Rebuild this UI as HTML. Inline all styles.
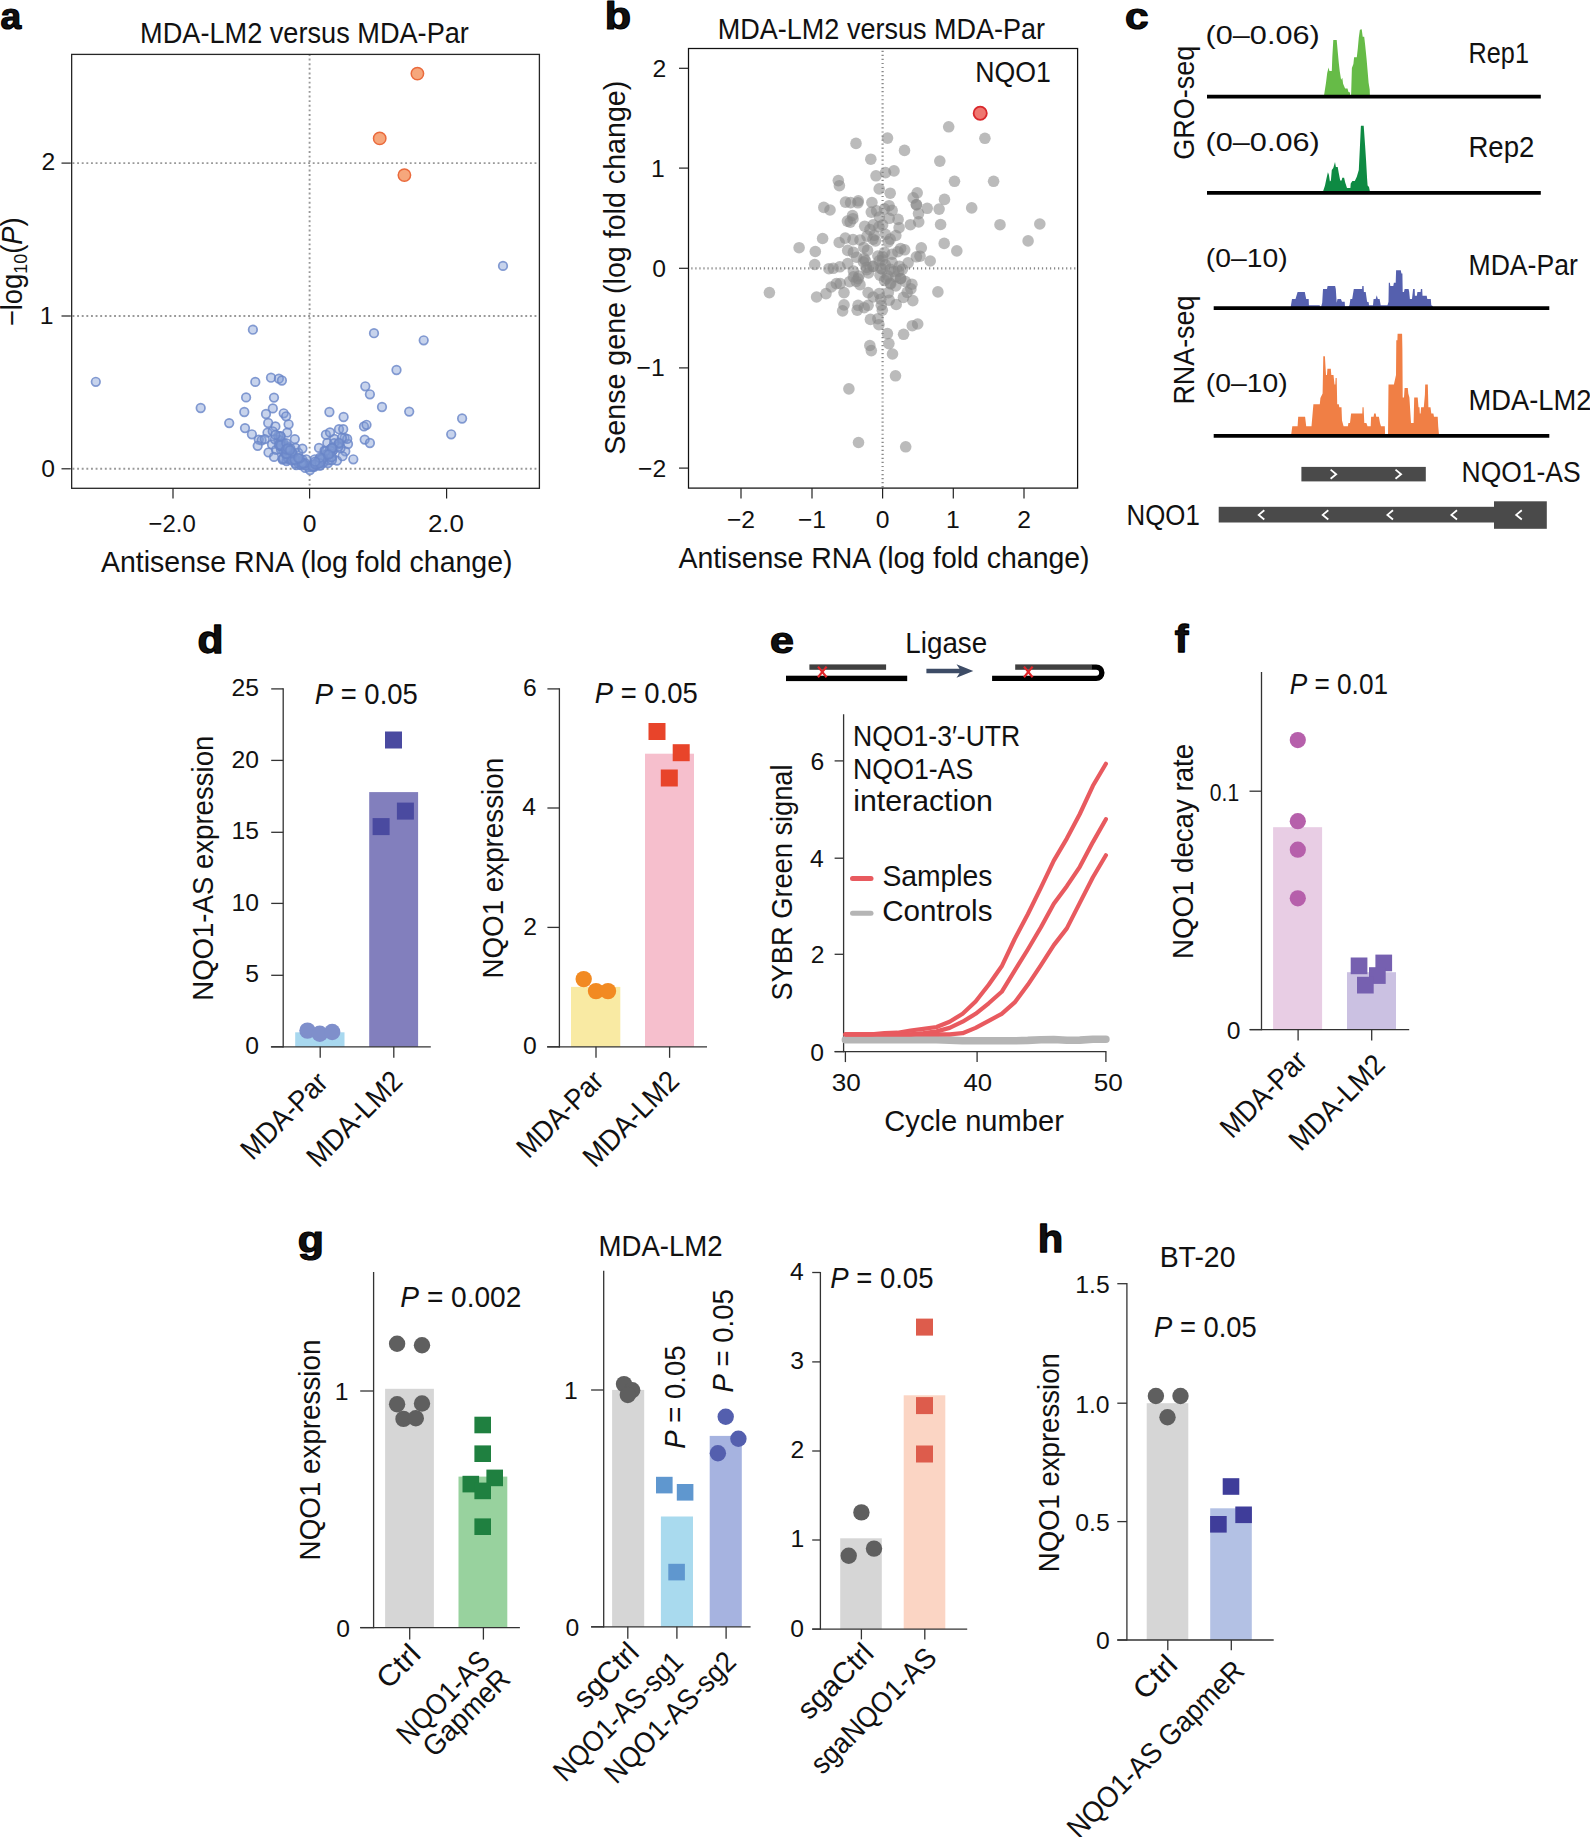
<!DOCTYPE html>
<html><head><meta charset="utf-8"><title>Figure</title>
<style>
html,body{margin:0;padding:0;background:#fff;}
svg{display:block;}
text{font-family:"Liberation Sans",sans-serif;fill:#111;}
</style></head><body>
<svg width="1590" height="1837" viewBox="0 0 1590 1837">
<rect width="1590" height="1837" fill="#fff"/>
<g id="panel-a">
<text transform="translate(0.58,28.73) scale(0.930,0.942)" font-size="40" font-weight="bold" fill="#000" stroke="#000" stroke-width="1.3" stroke-linejoin="round">a</text>
<text x="140.06" y="42.80" font-size="29.2" textLength="328.86" lengthAdjust="spacingAndGlyphs">MDA-LM2 versus MDA-Par</text>
<line x1="309.6" y1="54.0" x2="309.6" y2="488.0" stroke="#999" stroke-width="1.9" stroke-dasharray="1.9 2.72"/>
<line x1="72.5" y1="163.1" x2="540.0" y2="163.1" stroke="#999" stroke-width="1.9" stroke-dasharray="1.9 2.72"/>
<line x1="72.5" y1="316.0" x2="540.0" y2="316.0" stroke="#999" stroke-width="1.9" stroke-dasharray="1.9 2.72"/>
<line x1="72.5" y1="468.8" x2="540.0" y2="468.8" stroke="#999" stroke-width="1.9" stroke-dasharray="1.9 2.72"/>
<rect x="71.65" y="54.4" width="467.75" height="433.9" fill="none" stroke="#262626" stroke-width="1.3"/>
<line x1="61.5" y1="163.1" x2="70.8" y2="163.1" stroke="#222" stroke-width="1.2" />
<line x1="61.5" y1="316.0" x2="70.8" y2="316.0" stroke="#222" stroke-width="1.2" />
<line x1="61.5" y1="468.8" x2="70.8" y2="468.8" stroke="#222" stroke-width="1.2" />
<line x1="173.0" y1="488.2" x2="173.0" y2="498.5" stroke="#222" stroke-width="1.2" />
<line x1="309.6" y1="488.2" x2="309.6" y2="498.5" stroke="#222" stroke-width="1.2" />
<line x1="446.6" y1="488.2" x2="446.6" y2="498.5" stroke="#222" stroke-width="1.2" />
<text x="41.58" y="169.90" font-size="24.7">2</text>
<text x="39.86" y="324.00" font-size="24.7">1</text>
<text x="41.32" y="476.50" font-size="24.7">0</text>
<text x="148.55" y="531.70" font-size="24.7" textLength="47.23" lengthAdjust="spacingAndGlyphs">−2.0</text>
<text x="302.71" y="531.70" font-size="24.7">0</text>
<text x="427.90" y="531.70" font-size="24.7" textLength="36.08" lengthAdjust="spacingAndGlyphs">2.0</text>
<text x="101.03" y="571.50" font-size="29.2" textLength="411.47" lengthAdjust="spacingAndGlyphs">Antisense RNA (log fold change)</text>
<text transform="translate(21.70,326.20) rotate(-90)" font-size="29.2" textLength="108.90" lengthAdjust="spacingAndGlyphs">−log<tspan font-size="19" dy="5.5">10</tspan><tspan dy="-5.5">(</tspan><tspan font-style="italic">P</tspan>)</text>
<circle cx="200.7" cy="408.0" r="4.3" fill="#7f9ad3" fill-opacity="0.44" stroke="#6a86c8" stroke-opacity="0.82" stroke-width="1.7"/>
<circle cx="229.2" cy="423.1" r="4.3" fill="#7f9ad3" fill-opacity="0.44" stroke="#6a86c8" stroke-opacity="0.82" stroke-width="1.7"/>
<circle cx="246.1" cy="397.4" r="4.3" fill="#7f9ad3" fill-opacity="0.44" stroke="#6a86c8" stroke-opacity="0.82" stroke-width="1.7"/>
<circle cx="244.3" cy="412.0" r="4.3" fill="#7f9ad3" fill-opacity="0.44" stroke="#6a86c8" stroke-opacity="0.82" stroke-width="1.7"/>
<circle cx="245.0" cy="428.1" r="4.3" fill="#7f9ad3" fill-opacity="0.44" stroke="#6a86c8" stroke-opacity="0.82" stroke-width="1.7"/>
<circle cx="251.9" cy="434.3" r="4.3" fill="#7f9ad3" fill-opacity="0.44" stroke="#6a86c8" stroke-opacity="0.82" stroke-width="1.7"/>
<circle cx="255.3" cy="381.9" r="4.3" fill="#7f9ad3" fill-opacity="0.44" stroke="#6a86c8" stroke-opacity="0.82" stroke-width="1.7"/>
<circle cx="271.0" cy="377.7" r="4.3" fill="#7f9ad3" fill-opacity="0.44" stroke="#6a86c8" stroke-opacity="0.82" stroke-width="1.7"/>
<circle cx="278.9" cy="378.7" r="4.3" fill="#7f9ad3" fill-opacity="0.44" stroke="#6a86c8" stroke-opacity="0.82" stroke-width="1.7"/>
<circle cx="281.9" cy="380.5" r="4.3" fill="#7f9ad3" fill-opacity="0.44" stroke="#6a86c8" stroke-opacity="0.82" stroke-width="1.7"/>
<circle cx="274.0" cy="397.6" r="4.3" fill="#7f9ad3" fill-opacity="0.44" stroke="#6a86c8" stroke-opacity="0.82" stroke-width="1.7"/>
<circle cx="272.8" cy="408.4" r="4.3" fill="#7f9ad3" fill-opacity="0.44" stroke="#6a86c8" stroke-opacity="0.82" stroke-width="1.7"/>
<circle cx="266.0" cy="414.0" r="4.3" fill="#7f9ad3" fill-opacity="0.44" stroke="#6a86c8" stroke-opacity="0.82" stroke-width="1.7"/>
<circle cx="283.7" cy="413.3" r="4.3" fill="#7f9ad3" fill-opacity="0.44" stroke="#6a86c8" stroke-opacity="0.82" stroke-width="1.7"/>
<circle cx="286.1" cy="416.3" r="4.3" fill="#7f9ad3" fill-opacity="0.44" stroke="#6a86c8" stroke-opacity="0.82" stroke-width="1.7"/>
<circle cx="268.2" cy="423.0" r="4.3" fill="#7f9ad3" fill-opacity="0.44" stroke="#6a86c8" stroke-opacity="0.82" stroke-width="1.7"/>
<circle cx="275.4" cy="426.4" r="4.3" fill="#7f9ad3" fill-opacity="0.44" stroke="#6a86c8" stroke-opacity="0.82" stroke-width="1.7"/>
<circle cx="288.6" cy="424.3" r="4.3" fill="#7f9ad3" fill-opacity="0.44" stroke="#6a86c8" stroke-opacity="0.82" stroke-width="1.7"/>
<circle cx="267.5" cy="432.6" r="4.3" fill="#7f9ad3" fill-opacity="0.44" stroke="#6a86c8" stroke-opacity="0.82" stroke-width="1.7"/>
<circle cx="287.2" cy="432.6" r="4.3" fill="#7f9ad3" fill-opacity="0.44" stroke="#6a86c8" stroke-opacity="0.82" stroke-width="1.7"/>
<circle cx="258.8" cy="439.6" r="4.3" fill="#7f9ad3" fill-opacity="0.44" stroke="#6a86c8" stroke-opacity="0.82" stroke-width="1.7"/>
<circle cx="261.6" cy="440.3" r="4.3" fill="#7f9ad3" fill-opacity="0.44" stroke="#6a86c8" stroke-opacity="0.82" stroke-width="1.7"/>
<circle cx="264.8" cy="439.1" r="4.3" fill="#7f9ad3" fill-opacity="0.44" stroke="#6a86c8" stroke-opacity="0.82" stroke-width="1.7"/>
<circle cx="257.7" cy="445.8" r="4.3" fill="#7f9ad3" fill-opacity="0.44" stroke="#6a86c8" stroke-opacity="0.82" stroke-width="1.7"/>
<circle cx="272.0" cy="444.4" r="4.3" fill="#7f9ad3" fill-opacity="0.44" stroke="#6a86c8" stroke-opacity="0.82" stroke-width="1.7"/>
<circle cx="280.7" cy="442.3" r="4.3" fill="#7f9ad3" fill-opacity="0.44" stroke="#6a86c8" stroke-opacity="0.82" stroke-width="1.7"/>
<circle cx="280.3" cy="436.1" r="4.3" fill="#7f9ad3" fill-opacity="0.44" stroke="#6a86c8" stroke-opacity="0.82" stroke-width="1.7"/>
<circle cx="294.8" cy="439.1" r="4.3" fill="#7f9ad3" fill-opacity="0.44" stroke="#6a86c8" stroke-opacity="0.82" stroke-width="1.7"/>
<circle cx="268.5" cy="452.4" r="4.3" fill="#7f9ad3" fill-opacity="0.44" stroke="#6a86c8" stroke-opacity="0.82" stroke-width="1.7"/>
<circle cx="276.1" cy="449.9" r="4.3" fill="#7f9ad3" fill-opacity="0.44" stroke="#6a86c8" stroke-opacity="0.82" stroke-width="1.7"/>
<circle cx="284.4" cy="448.6" r="4.3" fill="#7f9ad3" fill-opacity="0.44" stroke="#6a86c8" stroke-opacity="0.82" stroke-width="1.7"/>
<circle cx="295.5" cy="447.9" r="4.3" fill="#7f9ad3" fill-opacity="0.44" stroke="#6a86c8" stroke-opacity="0.82" stroke-width="1.7"/>
<circle cx="274.0" cy="456.9" r="4.3" fill="#7f9ad3" fill-opacity="0.44" stroke="#6a86c8" stroke-opacity="0.82" stroke-width="1.7"/>
<circle cx="282.6" cy="459.6" r="4.3" fill="#7f9ad3" fill-opacity="0.44" stroke="#6a86c8" stroke-opacity="0.82" stroke-width="1.7"/>
<circle cx="289.2" cy="458.9" r="4.3" fill="#7f9ad3" fill-opacity="0.44" stroke="#6a86c8" stroke-opacity="0.82" stroke-width="1.7"/>
<circle cx="298.2" cy="452.7" r="4.3" fill="#7f9ad3" fill-opacity="0.44" stroke="#6a86c8" stroke-opacity="0.82" stroke-width="1.7"/>
<circle cx="302.4" cy="448.6" r="4.3" fill="#7f9ad3" fill-opacity="0.44" stroke="#6a86c8" stroke-opacity="0.82" stroke-width="1.7"/>
<circle cx="296.9" cy="459.6" r="4.3" fill="#7f9ad3" fill-opacity="0.44" stroke="#6a86c8" stroke-opacity="0.82" stroke-width="1.7"/>
<circle cx="302.4" cy="459.6" r="4.3" fill="#7f9ad3" fill-opacity="0.44" stroke="#6a86c8" stroke-opacity="0.82" stroke-width="1.7"/>
<circle cx="306.3" cy="459.3" r="4.3" fill="#7f9ad3" fill-opacity="0.44" stroke="#6a86c8" stroke-opacity="0.82" stroke-width="1.7"/>
<circle cx="296.2" cy="465.2" r="4.3" fill="#7f9ad3" fill-opacity="0.44" stroke="#6a86c8" stroke-opacity="0.82" stroke-width="1.7"/>
<circle cx="301.0" cy="465.2" r="4.3" fill="#7f9ad3" fill-opacity="0.44" stroke="#6a86c8" stroke-opacity="0.82" stroke-width="1.7"/>
<circle cx="308.6" cy="467.2" r="4.3" fill="#7f9ad3" fill-opacity="0.44" stroke="#6a86c8" stroke-opacity="0.82" stroke-width="1.7"/>
<circle cx="305.2" cy="467.9" r="4.3" fill="#7f9ad3" fill-opacity="0.44" stroke="#6a86c8" stroke-opacity="0.82" stroke-width="1.7"/>
<circle cx="312.1" cy="467.2" r="4.3" fill="#7f9ad3" fill-opacity="0.44" stroke="#6a86c8" stroke-opacity="0.82" stroke-width="1.7"/>
<circle cx="310.0" cy="470.0" r="4.3" fill="#7f9ad3" fill-opacity="0.44" stroke="#6a86c8" stroke-opacity="0.82" stroke-width="1.7"/>
<circle cx="314.8" cy="459.3" r="4.3" fill="#7f9ad3" fill-opacity="0.44" stroke="#6a86c8" stroke-opacity="0.82" stroke-width="1.7"/>
<circle cx="319.0" cy="462.4" r="4.3" fill="#7f9ad3" fill-opacity="0.44" stroke="#6a86c8" stroke-opacity="0.82" stroke-width="1.7"/>
<circle cx="321.8" cy="463.1" r="4.3" fill="#7f9ad3" fill-opacity="0.44" stroke="#6a86c8" stroke-opacity="0.82" stroke-width="1.7"/>
<circle cx="328.0" cy="463.1" r="4.3" fill="#7f9ad3" fill-opacity="0.44" stroke="#6a86c8" stroke-opacity="0.82" stroke-width="1.7"/>
<circle cx="337.0" cy="460.6" r="4.3" fill="#7f9ad3" fill-opacity="0.44" stroke="#6a86c8" stroke-opacity="0.82" stroke-width="1.7"/>
<circle cx="353.3" cy="459.3" r="4.3" fill="#7f9ad3" fill-opacity="0.44" stroke="#6a86c8" stroke-opacity="0.82" stroke-width="1.7"/>
<circle cx="319.0" cy="447.9" r="4.3" fill="#7f9ad3" fill-opacity="0.44" stroke="#6a86c8" stroke-opacity="0.82" stroke-width="1.7"/>
<circle cx="324.5" cy="450.6" r="4.3" fill="#7f9ad3" fill-opacity="0.44" stroke="#6a86c8" stroke-opacity="0.82" stroke-width="1.7"/>
<circle cx="327.3" cy="443.0" r="4.3" fill="#7f9ad3" fill-opacity="0.44" stroke="#6a86c8" stroke-opacity="0.82" stroke-width="1.7"/>
<circle cx="333.5" cy="449.9" r="4.3" fill="#7f9ad3" fill-opacity="0.44" stroke="#6a86c8" stroke-opacity="0.82" stroke-width="1.7"/>
<circle cx="338.4" cy="444.0" r="4.3" fill="#7f9ad3" fill-opacity="0.44" stroke="#6a86c8" stroke-opacity="0.82" stroke-width="1.7"/>
<circle cx="345.3" cy="451.3" r="4.3" fill="#7f9ad3" fill-opacity="0.44" stroke="#6a86c8" stroke-opacity="0.82" stroke-width="1.7"/>
<circle cx="342.5" cy="456.2" r="4.3" fill="#7f9ad3" fill-opacity="0.44" stroke="#6a86c8" stroke-opacity="0.82" stroke-width="1.7"/>
<circle cx="348.0" cy="444.0" r="4.3" fill="#7f9ad3" fill-opacity="0.44" stroke="#6a86c8" stroke-opacity="0.82" stroke-width="1.7"/>
<circle cx="344.6" cy="437.9" r="4.3" fill="#7f9ad3" fill-opacity="0.44" stroke="#6a86c8" stroke-opacity="0.82" stroke-width="1.7"/>
<circle cx="334.2" cy="438.9" r="4.3" fill="#7f9ad3" fill-opacity="0.44" stroke="#6a86c8" stroke-opacity="0.82" stroke-width="1.7"/>
<circle cx="325.9" cy="434.7" r="4.3" fill="#7f9ad3" fill-opacity="0.44" stroke="#6a86c8" stroke-opacity="0.82" stroke-width="1.7"/>
<circle cx="330.0" cy="432.4" r="4.3" fill="#7f9ad3" fill-opacity="0.44" stroke="#6a86c8" stroke-opacity="0.82" stroke-width="1.7"/>
<circle cx="339.0" cy="429.2" r="4.3" fill="#7f9ad3" fill-opacity="0.44" stroke="#6a86c8" stroke-opacity="0.82" stroke-width="1.7"/>
<circle cx="343.2" cy="429.2" r="4.3" fill="#7f9ad3" fill-opacity="0.44" stroke="#6a86c8" stroke-opacity="0.82" stroke-width="1.7"/>
<circle cx="329.4" cy="412.0" r="4.3" fill="#7f9ad3" fill-opacity="0.44" stroke="#6a86c8" stroke-opacity="0.82" stroke-width="1.7"/>
<circle cx="343.6" cy="417.0" r="4.3" fill="#7f9ad3" fill-opacity="0.44" stroke="#6a86c8" stroke-opacity="0.82" stroke-width="1.7"/>
<circle cx="364.0" cy="426.4" r="4.3" fill="#7f9ad3" fill-opacity="0.44" stroke="#6a86c8" stroke-opacity="0.82" stroke-width="1.7"/>
<circle cx="366.5" cy="424.8" r="4.3" fill="#7f9ad3" fill-opacity="0.44" stroke="#6a86c8" stroke-opacity="0.82" stroke-width="1.7"/>
<circle cx="364.7" cy="439.6" r="4.3" fill="#7f9ad3" fill-opacity="0.44" stroke="#6a86c8" stroke-opacity="0.82" stroke-width="1.7"/>
<circle cx="369.9" cy="443.0" r="4.3" fill="#7f9ad3" fill-opacity="0.44" stroke="#6a86c8" stroke-opacity="0.82" stroke-width="1.7"/>
<circle cx="365.3" cy="386.3" r="4.3" fill="#7f9ad3" fill-opacity="0.44" stroke="#6a86c8" stroke-opacity="0.82" stroke-width="1.7"/>
<circle cx="369.9" cy="394.3" r="4.3" fill="#7f9ad3" fill-opacity="0.44" stroke="#6a86c8" stroke-opacity="0.82" stroke-width="1.7"/>
<circle cx="382.0" cy="407.0" r="4.3" fill="#7f9ad3" fill-opacity="0.44" stroke="#6a86c8" stroke-opacity="0.82" stroke-width="1.7"/>
<circle cx="396.5" cy="370.0" r="4.3" fill="#7f9ad3" fill-opacity="0.44" stroke="#6a86c8" stroke-opacity="0.82" stroke-width="1.7"/>
<circle cx="409.2" cy="411.6" r="4.3" fill="#7f9ad3" fill-opacity="0.44" stroke="#6a86c8" stroke-opacity="0.82" stroke-width="1.7"/>
<circle cx="95.8" cy="381.8" r="4.3" fill="#7f9ad3" fill-opacity="0.44" stroke="#6a86c8" stroke-opacity="0.82" stroke-width="1.7"/>
<circle cx="252.9" cy="329.7" r="4.3" fill="#7f9ad3" fill-opacity="0.44" stroke="#6a86c8" stroke-opacity="0.82" stroke-width="1.7"/>
<circle cx="374.0" cy="333.2" r="4.3" fill="#7f9ad3" fill-opacity="0.44" stroke="#6a86c8" stroke-opacity="0.82" stroke-width="1.7"/>
<circle cx="423.7" cy="340.3" r="4.3" fill="#7f9ad3" fill-opacity="0.44" stroke="#6a86c8" stroke-opacity="0.82" stroke-width="1.7"/>
<circle cx="503.0" cy="265.9" r="4.3" fill="#7f9ad3" fill-opacity="0.44" stroke="#6a86c8" stroke-opacity="0.82" stroke-width="1.7"/>
<circle cx="462.1" cy="418.5" r="4.3" fill="#7f9ad3" fill-opacity="0.44" stroke="#6a86c8" stroke-opacity="0.82" stroke-width="1.7"/>
<circle cx="451.2" cy="434.3" r="4.3" fill="#7f9ad3" fill-opacity="0.44" stroke="#6a86c8" stroke-opacity="0.82" stroke-width="1.7"/>
<circle cx="299.0" cy="464.2" r="4.3" fill="#7f9ad3" fill-opacity="0.44" stroke="#6a86c8" stroke-opacity="0.82" stroke-width="1.7"/>
<circle cx="283.9" cy="451.0" r="4.3" fill="#7f9ad3" fill-opacity="0.44" stroke="#6a86c8" stroke-opacity="0.82" stroke-width="1.7"/>
<circle cx="283.1" cy="449.9" r="4.3" fill="#7f9ad3" fill-opacity="0.44" stroke="#6a86c8" stroke-opacity="0.82" stroke-width="1.7"/>
<circle cx="305.6" cy="465.4" r="4.3" fill="#7f9ad3" fill-opacity="0.44" stroke="#6a86c8" stroke-opacity="0.82" stroke-width="1.7"/>
<circle cx="305.1" cy="463.1" r="4.3" fill="#7f9ad3" fill-opacity="0.44" stroke="#6a86c8" stroke-opacity="0.82" stroke-width="1.7"/>
<circle cx="293.0" cy="457.6" r="4.3" fill="#7f9ad3" fill-opacity="0.44" stroke="#6a86c8" stroke-opacity="0.82" stroke-width="1.7"/>
<circle cx="314.2" cy="466.8" r="4.3" fill="#7f9ad3" fill-opacity="0.44" stroke="#6a86c8" stroke-opacity="0.82" stroke-width="1.7"/>
<circle cx="282.4" cy="444.0" r="4.3" fill="#7f9ad3" fill-opacity="0.44" stroke="#6a86c8" stroke-opacity="0.82" stroke-width="1.7"/>
<circle cx="288.3" cy="459.4" r="4.3" fill="#7f9ad3" fill-opacity="0.44" stroke="#6a86c8" stroke-opacity="0.82" stroke-width="1.7"/>
<circle cx="328.6" cy="460.3" r="4.3" fill="#7f9ad3" fill-opacity="0.44" stroke="#6a86c8" stroke-opacity="0.82" stroke-width="1.7"/>
<circle cx="317.9" cy="463.6" r="4.3" fill="#7f9ad3" fill-opacity="0.44" stroke="#6a86c8" stroke-opacity="0.82" stroke-width="1.7"/>
<circle cx="283.4" cy="458.2" r="4.3" fill="#7f9ad3" fill-opacity="0.44" stroke="#6a86c8" stroke-opacity="0.82" stroke-width="1.7"/>
<circle cx="320.4" cy="461.2" r="4.3" fill="#7f9ad3" fill-opacity="0.44" stroke="#6a86c8" stroke-opacity="0.82" stroke-width="1.7"/>
<circle cx="314.7" cy="464.3" r="4.3" fill="#7f9ad3" fill-opacity="0.44" stroke="#6a86c8" stroke-opacity="0.82" stroke-width="1.7"/>
<circle cx="327.3" cy="453.9" r="4.3" fill="#7f9ad3" fill-opacity="0.44" stroke="#6a86c8" stroke-opacity="0.82" stroke-width="1.7"/>
<circle cx="314.1" cy="466.3" r="4.3" fill="#7f9ad3" fill-opacity="0.44" stroke="#6a86c8" stroke-opacity="0.82" stroke-width="1.7"/>
<circle cx="323.4" cy="462.7" r="4.3" fill="#7f9ad3" fill-opacity="0.44" stroke="#6a86c8" stroke-opacity="0.82" stroke-width="1.7"/>
<circle cx="286.7" cy="455.7" r="4.3" fill="#7f9ad3" fill-opacity="0.44" stroke="#6a86c8" stroke-opacity="0.82" stroke-width="1.7"/>
<circle cx="288.7" cy="453.7" r="4.3" fill="#7f9ad3" fill-opacity="0.44" stroke="#6a86c8" stroke-opacity="0.82" stroke-width="1.7"/>
<circle cx="319.7" cy="460.2" r="4.3" fill="#7f9ad3" fill-opacity="0.44" stroke="#6a86c8" stroke-opacity="0.82" stroke-width="1.7"/>
<circle cx="332.1" cy="457.2" r="4.3" fill="#7f9ad3" fill-opacity="0.44" stroke="#6a86c8" stroke-opacity="0.82" stroke-width="1.7"/>
<circle cx="315.3" cy="464.0" r="4.3" fill="#7f9ad3" fill-opacity="0.44" stroke="#6a86c8" stroke-opacity="0.82" stroke-width="1.7"/>
<circle cx="330.0" cy="449.3" r="4.3" fill="#7f9ad3" fill-opacity="0.44" stroke="#6a86c8" stroke-opacity="0.82" stroke-width="1.7"/>
<circle cx="319.4" cy="465.3" r="4.3" fill="#7f9ad3" fill-opacity="0.44" stroke="#6a86c8" stroke-opacity="0.82" stroke-width="1.7"/>
<circle cx="318.4" cy="460.6" r="4.3" fill="#7f9ad3" fill-opacity="0.44" stroke="#6a86c8" stroke-opacity="0.82" stroke-width="1.7"/>
<circle cx="296.7" cy="461.4" r="4.3" fill="#7f9ad3" fill-opacity="0.44" stroke="#6a86c8" stroke-opacity="0.82" stroke-width="1.7"/>
<circle cx="281.0" cy="449.8" r="4.3" fill="#7f9ad3" fill-opacity="0.44" stroke="#6a86c8" stroke-opacity="0.82" stroke-width="1.7"/>
<circle cx="286.6" cy="461.0" r="4.3" fill="#7f9ad3" fill-opacity="0.44" stroke="#6a86c8" stroke-opacity="0.82" stroke-width="1.7"/>
<circle cx="287.4" cy="457.4" r="4.3" fill="#7f9ad3" fill-opacity="0.44" stroke="#6a86c8" stroke-opacity="0.82" stroke-width="1.7"/>
<circle cx="331.9" cy="460.0" r="4.3" fill="#7f9ad3" fill-opacity="0.44" stroke="#6a86c8" stroke-opacity="0.82" stroke-width="1.7"/>
<circle cx="312.6" cy="466.4" r="4.3" fill="#7f9ad3" fill-opacity="0.44" stroke="#6a86c8" stroke-opacity="0.82" stroke-width="1.7"/>
<circle cx="331.4" cy="457.2" r="4.3" fill="#7f9ad3" fill-opacity="0.44" stroke="#6a86c8" stroke-opacity="0.82" stroke-width="1.7"/>
<circle cx="301.1" cy="462.0" r="4.3" fill="#7f9ad3" fill-opacity="0.44" stroke="#6a86c8" stroke-opacity="0.82" stroke-width="1.7"/>
<circle cx="288.7" cy="458.5" r="4.3" fill="#7f9ad3" fill-opacity="0.44" stroke="#6a86c8" stroke-opacity="0.82" stroke-width="1.7"/>
<circle cx="293.6" cy="458.4" r="4.3" fill="#7f9ad3" fill-opacity="0.44" stroke="#6a86c8" stroke-opacity="0.82" stroke-width="1.7"/>
<circle cx="295.4" cy="463.4" r="4.3" fill="#7f9ad3" fill-opacity="0.44" stroke="#6a86c8" stroke-opacity="0.82" stroke-width="1.7"/>
<circle cx="301.8" cy="464.1" r="4.3" fill="#7f9ad3" fill-opacity="0.44" stroke="#6a86c8" stroke-opacity="0.82" stroke-width="1.7"/>
<circle cx="321.0" cy="461.1" r="4.3" fill="#7f9ad3" fill-opacity="0.44" stroke="#6a86c8" stroke-opacity="0.82" stroke-width="1.7"/>
<circle cx="320.2" cy="465.7" r="4.3" fill="#7f9ad3" fill-opacity="0.44" stroke="#6a86c8" stroke-opacity="0.82" stroke-width="1.7"/>
<circle cx="326.4" cy="454.3" r="4.3" fill="#7f9ad3" fill-opacity="0.44" stroke="#6a86c8" stroke-opacity="0.82" stroke-width="1.7"/>
<circle cx="303.1" cy="463.2" r="4.3" fill="#7f9ad3" fill-opacity="0.44" stroke="#6a86c8" stroke-opacity="0.82" stroke-width="1.7"/>
<circle cx="317.7" cy="464.0" r="4.3" fill="#7f9ad3" fill-opacity="0.44" stroke="#6a86c8" stroke-opacity="0.82" stroke-width="1.7"/>
<circle cx="292.1" cy="460.4" r="4.3" fill="#7f9ad3" fill-opacity="0.44" stroke="#6a86c8" stroke-opacity="0.82" stroke-width="1.7"/>
<circle cx="282.8" cy="458.9" r="4.3" fill="#7f9ad3" fill-opacity="0.44" stroke="#6a86c8" stroke-opacity="0.82" stroke-width="1.7"/>
<circle cx="285.7" cy="453.8" r="4.3" fill="#7f9ad3" fill-opacity="0.44" stroke="#6a86c8" stroke-opacity="0.82" stroke-width="1.7"/>
<circle cx="332.1" cy="451.2" r="4.3" fill="#7f9ad3" fill-opacity="0.44" stroke="#6a86c8" stroke-opacity="0.82" stroke-width="1.7"/>
<circle cx="294.7" cy="459.8" r="4.3" fill="#7f9ad3" fill-opacity="0.44" stroke="#6a86c8" stroke-opacity="0.82" stroke-width="1.7"/>
<circle cx="287.0" cy="450.2" r="4.3" fill="#7f9ad3" fill-opacity="0.44" stroke="#6a86c8" stroke-opacity="0.82" stroke-width="1.7"/>
<circle cx="330.0" cy="450.5" r="4.3" fill="#7f9ad3" fill-opacity="0.44" stroke="#6a86c8" stroke-opacity="0.82" stroke-width="1.7"/>
<circle cx="339.3" cy="443.9" r="4.3" fill="#7f9ad3" fill-opacity="0.44" stroke="#6a86c8" stroke-opacity="0.82" stroke-width="1.7"/>
<circle cx="287.6" cy="446.4" r="4.3" fill="#7f9ad3" fill-opacity="0.44" stroke="#6a86c8" stroke-opacity="0.82" stroke-width="1.7"/>
<circle cx="299.8" cy="458.4" r="4.3" fill="#7f9ad3" fill-opacity="0.44" stroke="#6a86c8" stroke-opacity="0.82" stroke-width="1.7"/>
<circle cx="283.4" cy="442.9" r="4.3" fill="#7f9ad3" fill-opacity="0.44" stroke="#6a86c8" stroke-opacity="0.82" stroke-width="1.7"/>
<circle cx="292.5" cy="453.3" r="4.3" fill="#7f9ad3" fill-opacity="0.44" stroke="#6a86c8" stroke-opacity="0.82" stroke-width="1.7"/>
<circle cx="332.5" cy="448.3" r="4.3" fill="#7f9ad3" fill-opacity="0.44" stroke="#6a86c8" stroke-opacity="0.82" stroke-width="1.7"/>
<circle cx="278.6" cy="440.0" r="4.3" fill="#7f9ad3" fill-opacity="0.44" stroke="#6a86c8" stroke-opacity="0.82" stroke-width="1.7"/>
<circle cx="280.2" cy="445.8" r="4.3" fill="#7f9ad3" fill-opacity="0.44" stroke="#6a86c8" stroke-opacity="0.82" stroke-width="1.7"/>
<circle cx="280.5" cy="440.3" r="4.3" fill="#7f9ad3" fill-opacity="0.44" stroke="#6a86c8" stroke-opacity="0.82" stroke-width="1.7"/>
<circle cx="321.0" cy="461.3" r="4.3" fill="#7f9ad3" fill-opacity="0.44" stroke="#6a86c8" stroke-opacity="0.82" stroke-width="1.7"/>
<circle cx="347.2" cy="438.9" r="4.3" fill="#7f9ad3" fill-opacity="0.44" stroke="#6a86c8" stroke-opacity="0.82" stroke-width="1.7"/>
<circle cx="330.1" cy="453.5" r="4.3" fill="#7f9ad3" fill-opacity="0.44" stroke="#6a86c8" stroke-opacity="0.82" stroke-width="1.7"/>
<circle cx="274.9" cy="439.3" r="4.3" fill="#7f9ad3" fill-opacity="0.44" stroke="#6a86c8" stroke-opacity="0.82" stroke-width="1.7"/>
<circle cx="278.2" cy="435.9" r="4.3" fill="#7f9ad3" fill-opacity="0.44" stroke="#6a86c8" stroke-opacity="0.82" stroke-width="1.7"/>
<circle cx="291.8" cy="451.7" r="4.3" fill="#7f9ad3" fill-opacity="0.44" stroke="#6a86c8" stroke-opacity="0.82" stroke-width="1.7"/>
<circle cx="340.6" cy="448.0" r="4.3" fill="#7f9ad3" fill-opacity="0.44" stroke="#6a86c8" stroke-opacity="0.82" stroke-width="1.7"/>
<circle cx="338.4" cy="446.7" r="4.3" fill="#7f9ad3" fill-opacity="0.44" stroke="#6a86c8" stroke-opacity="0.82" stroke-width="1.7"/>
<circle cx="280.7" cy="436.3" r="4.3" fill="#7f9ad3" fill-opacity="0.44" stroke="#6a86c8" stroke-opacity="0.82" stroke-width="1.7"/>
<circle cx="334.1" cy="443.1" r="4.3" fill="#7f9ad3" fill-opacity="0.44" stroke="#6a86c8" stroke-opacity="0.82" stroke-width="1.7"/>
<circle cx="341.9" cy="438.0" r="4.3" fill="#7f9ad3" fill-opacity="0.44" stroke="#6a86c8" stroke-opacity="0.82" stroke-width="1.7"/>
<circle cx="286.5" cy="453.7" r="4.3" fill="#7f9ad3" fill-opacity="0.44" stroke="#6a86c8" stroke-opacity="0.82" stroke-width="1.7"/>
<circle cx="280.6" cy="445.3" r="4.3" fill="#7f9ad3" fill-opacity="0.44" stroke="#6a86c8" stroke-opacity="0.82" stroke-width="1.7"/>
<circle cx="290.3" cy="448.4" r="4.3" fill="#7f9ad3" fill-opacity="0.44" stroke="#6a86c8" stroke-opacity="0.82" stroke-width="1.7"/>
<circle cx="322.9" cy="458.5" r="4.3" fill="#7f9ad3" fill-opacity="0.44" stroke="#6a86c8" stroke-opacity="0.82" stroke-width="1.7"/>
<circle cx="325.4" cy="451.1" r="4.3" fill="#7f9ad3" fill-opacity="0.44" stroke="#6a86c8" stroke-opacity="0.82" stroke-width="1.7"/>
<circle cx="339.0" cy="443.0" r="4.3" fill="#7f9ad3" fill-opacity="0.44" stroke="#6a86c8" stroke-opacity="0.82" stroke-width="1.7"/>
<circle cx="287.5" cy="449.4" r="4.3" fill="#7f9ad3" fill-opacity="0.44" stroke="#6a86c8" stroke-opacity="0.82" stroke-width="1.7"/>
<circle cx="315.2" cy="464.1" r="4.3" fill="#7f9ad3" fill-opacity="0.44" stroke="#6a86c8" stroke-opacity="0.82" stroke-width="1.7"/>
<circle cx="279.0" cy="445.1" r="4.3" fill="#7f9ad3" fill-opacity="0.44" stroke="#6a86c8" stroke-opacity="0.82" stroke-width="1.7"/>
<circle cx="280.7" cy="445.1" r="4.3" fill="#7f9ad3" fill-opacity="0.44" stroke="#6a86c8" stroke-opacity="0.82" stroke-width="1.7"/>
<circle cx="286.3" cy="443.2" r="4.3" fill="#7f9ad3" fill-opacity="0.44" stroke="#6a86c8" stroke-opacity="0.82" stroke-width="1.7"/>
<circle cx="298.3" cy="458.0" r="4.3" fill="#7f9ad3" fill-opacity="0.44" stroke="#6a86c8" stroke-opacity="0.82" stroke-width="1.7"/>
<circle cx="286.1" cy="449.2" r="4.3" fill="#7f9ad3" fill-opacity="0.44" stroke="#6a86c8" stroke-opacity="0.82" stroke-width="1.7"/>
<circle cx="287.9" cy="448.2" r="4.3" fill="#7f9ad3" fill-opacity="0.44" stroke="#6a86c8" stroke-opacity="0.82" stroke-width="1.7"/>
<circle cx="332.2" cy="447.7" r="4.3" fill="#7f9ad3" fill-opacity="0.44" stroke="#6a86c8" stroke-opacity="0.82" stroke-width="1.7"/>
<circle cx="331.9" cy="448.2" r="4.3" fill="#7f9ad3" fill-opacity="0.44" stroke="#6a86c8" stroke-opacity="0.82" stroke-width="1.7"/>
<circle cx="321.3" cy="458.2" r="4.3" fill="#7f9ad3" fill-opacity="0.44" stroke="#6a86c8" stroke-opacity="0.82" stroke-width="1.7"/>
<circle cx="290.0" cy="450.2" r="4.3" fill="#7f9ad3" fill-opacity="0.44" stroke="#6a86c8" stroke-opacity="0.82" stroke-width="1.7"/>
<circle cx="321.6" cy="459.2" r="4.3" fill="#7f9ad3" fill-opacity="0.44" stroke="#6a86c8" stroke-opacity="0.82" stroke-width="1.7"/>
<circle cx="319.7" cy="463.2" r="4.3" fill="#7f9ad3" fill-opacity="0.44" stroke="#6a86c8" stroke-opacity="0.82" stroke-width="1.7"/>
<circle cx="272.7" cy="431.3" r="4.3" fill="#7f9ad3" fill-opacity="0.44" stroke="#6a86c8" stroke-opacity="0.82" stroke-width="1.7"/>
<circle cx="275.4" cy="434.9" r="4.3" fill="#7f9ad3" fill-opacity="0.44" stroke="#6a86c8" stroke-opacity="0.82" stroke-width="1.7"/>
<circle cx="319.9" cy="457.7" r="4.3" fill="#7f9ad3" fill-opacity="0.44" stroke="#6a86c8" stroke-opacity="0.82" stroke-width="1.7"/>
<circle cx="328.5" cy="454.5" r="4.3" fill="#7f9ad3" fill-opacity="0.44" stroke="#6a86c8" stroke-opacity="0.82" stroke-width="1.7"/>
<circle cx="315.2" cy="461.7" r="4.3" fill="#7f9ad3" fill-opacity="0.44" stroke="#6a86c8" stroke-opacity="0.82" stroke-width="1.7"/>
<circle cx="417.4" cy="73.6" r="6.2" fill="#f6a77c" stroke="#ea6a3c" stroke-width="1.5"/>
<circle cx="379.7" cy="138.4" r="6.2" fill="#f6a77c" stroke="#ea6a3c" stroke-width="1.5"/>
<circle cx="404.4" cy="175.1" r="6.2" fill="#f6a77c" stroke="#ea6a3c" stroke-width="1.5"/>
</g>
<g id="panel-b">
<text transform="translate(604.85,28.85) scale(1.077,0.952)" font-size="40" font-weight="bold" fill="#000" stroke="#000" stroke-width="1.3" stroke-linejoin="round">b</text>
<text x="717.77" y="39.30" font-size="29.2" textLength="327.35" lengthAdjust="spacingAndGlyphs">MDA-LM2 versus MDA-Par</text>
<line x1="882.6" y1="50.8" x2="882.6" y2="488.0" stroke="#888" stroke-width="2.2" stroke-dasharray="1.2 2.83"/>
<line x1="691.3" y1="268.3" x2="1077.0" y2="268.3" stroke="#888" stroke-width="2.2" stroke-dasharray="1.2 2.83"/>
<rect x="688.5" y="48.5" width="389.1" height="439.6" fill="none" stroke="#111" stroke-width="1.25"/>
<line x1="679.0" y1="68.3" x2="688.4" y2="68.3" stroke="#222" stroke-width="1.2" />
<text x="652.53" y="76.80" font-size="24.7">2</text>
<line x1="679.0" y1="168.1" x2="688.4" y2="168.1" stroke="#222" stroke-width="1.2" />
<text x="651.06" y="176.60" font-size="24.7">1</text>
<line x1="679.0" y1="268.3" x2="688.4" y2="268.3" stroke="#222" stroke-width="1.2" />
<text x="652.22" y="276.80" font-size="24.7">0</text>
<line x1="679.0" y1="367.9" x2="688.4" y2="367.9" stroke="#222" stroke-width="1.2" />
<text x="636.62" y="376.40" font-size="24.7">−1</text>
<line x1="679.0" y1="468.1" x2="688.4" y2="468.1" stroke="#222" stroke-width="1.2" />
<text x="638.08" y="476.60" font-size="24.7">−2</text>
<line x1="741.0" y1="488.1" x2="741.0" y2="498.4" stroke="#222" stroke-width="1.2" />
<text x="726.92" y="528.40" font-size="24.7">−2</text>
<line x1="812.0" y1="488.1" x2="812.0" y2="498.4" stroke="#222" stroke-width="1.2" />
<text x="797.89" y="528.40" font-size="24.7">−1</text>
<line x1="882.6" y1="488.1" x2="882.6" y2="498.4" stroke="#222" stroke-width="1.2" />
<text x="875.71" y="528.40" font-size="24.7">0</text>
<line x1="953.3" y1="488.1" x2="953.3" y2="498.4" stroke="#222" stroke-width="1.2" />
<text x="946.11" y="528.40" font-size="24.7">1</text>
<line x1="1024.0" y1="488.1" x2="1024.0" y2="498.4" stroke="#222" stroke-width="1.2" />
<text x="1017.15" y="528.40" font-size="24.7">2</text>
<text x="678.43" y="567.50" font-size="29.2" textLength="411.17" lengthAdjust="spacingAndGlyphs">Antisense RNA (log fold change)</text>
<text transform="translate(625.10,454.79) rotate(-90)" font-size="29.2" textLength="374.09" lengthAdjust="spacingAndGlyphs">Sense gene (log fold change)</text>
<text x="975.20" y="82.40" font-size="29.2" textLength="75.51" lengthAdjust="spacingAndGlyphs">NQO1</text>
<circle cx="948.7" cy="126.8" r="5.8" fill="#888" fill-opacity="0.57"/>
<circle cx="984.9" cy="138.3" r="5.8" fill="#888" fill-opacity="0.57"/>
<circle cx="887.5" cy="138.1" r="5.8" fill="#888" fill-opacity="0.57"/>
<circle cx="856.0" cy="143.4" r="5.8" fill="#888" fill-opacity="0.57"/>
<circle cx="904.5" cy="150.4" r="5.8" fill="#888" fill-opacity="0.57"/>
<circle cx="870.8" cy="159.2" r="5.8" fill="#888" fill-opacity="0.57"/>
<circle cx="939.8" cy="161.1" r="5.8" fill="#888" fill-opacity="0.57"/>
<circle cx="894.0" cy="170.9" r="5.8" fill="#888" fill-opacity="0.57"/>
<circle cx="885.5" cy="172.6" r="5.8" fill="#888" fill-opacity="0.57"/>
<circle cx="876.0" cy="175.8" r="5.8" fill="#888" fill-opacity="0.57"/>
<circle cx="838.3" cy="180.6" r="5.8" fill="#888" fill-opacity="0.57"/>
<circle cx="839.4" cy="185.7" r="5.8" fill="#888" fill-opacity="0.57"/>
<circle cx="954.5" cy="181.3" r="5.8" fill="#888" fill-opacity="0.57"/>
<circle cx="993.6" cy="181.3" r="5.8" fill="#888" fill-opacity="0.57"/>
<circle cx="879.2" cy="188.9" r="5.8" fill="#888" fill-opacity="0.57"/>
<circle cx="890.2" cy="193.2" r="5.8" fill="#888" fill-opacity="0.57"/>
<circle cx="917.2" cy="192.8" r="5.8" fill="#888" fill-opacity="0.57"/>
<circle cx="913.2" cy="197.9" r="5.8" fill="#888" fill-opacity="0.57"/>
<circle cx="944.5" cy="199.4" r="5.8" fill="#888" fill-opacity="0.57"/>
<circle cx="916.4" cy="204.5" r="5.8" fill="#888" fill-opacity="0.57"/>
<circle cx="916.4" cy="204.9" r="5.8" fill="#888" fill-opacity="0.57"/>
<circle cx="845.5" cy="202.1" r="5.8" fill="#888" fill-opacity="0.57"/>
<circle cx="850.6" cy="202.6" r="5.8" fill="#888" fill-opacity="0.57"/>
<circle cx="858.3" cy="200.8" r="5.8" fill="#888" fill-opacity="0.57"/>
<circle cx="857.9" cy="202.8" r="5.8" fill="#888" fill-opacity="0.57"/>
<circle cx="871.9" cy="202.5" r="5.8" fill="#888" fill-opacity="0.57"/>
<circle cx="823.8" cy="207.4" r="5.8" fill="#888" fill-opacity="0.57"/>
<circle cx="830.0" cy="210.0" r="5.8" fill="#888" fill-opacity="0.57"/>
<circle cx="927.2" cy="208.3" r="5.8" fill="#888" fill-opacity="0.57"/>
<circle cx="939.1" cy="209.1" r="5.8" fill="#888" fill-opacity="0.57"/>
<circle cx="971.7" cy="207.9" r="5.8" fill="#888" fill-opacity="0.57"/>
<circle cx="889.1" cy="205.7" r="5.8" fill="#888" fill-opacity="0.57"/>
<circle cx="884.5" cy="208.9" r="5.8" fill="#888" fill-opacity="0.57"/>
<circle cx="892.1" cy="210.4" r="5.8" fill="#888" fill-opacity="0.57"/>
<circle cx="871.3" cy="212.1" r="5.8" fill="#888" fill-opacity="0.57"/>
<circle cx="876.6" cy="210.8" r="5.8" fill="#888" fill-opacity="0.57"/>
<circle cx="918.5" cy="213.6" r="5.8" fill="#888" fill-opacity="0.57"/>
<circle cx="852.5" cy="215.5" r="5.8" fill="#888" fill-opacity="0.57"/>
<circle cx="853.0" cy="218.7" r="5.8" fill="#888" fill-opacity="0.57"/>
<circle cx="847.4" cy="221.1" r="5.8" fill="#888" fill-opacity="0.57"/>
<circle cx="850.2" cy="222.1" r="5.8" fill="#888" fill-opacity="0.57"/>
<circle cx="879.4" cy="217.0" r="5.8" fill="#888" fill-opacity="0.57"/>
<circle cx="889.2" cy="218.3" r="5.8" fill="#888" fill-opacity="0.57"/>
<circle cx="898.1" cy="219.4" r="5.8" fill="#888" fill-opacity="0.57"/>
<circle cx="918.7" cy="221.9" r="5.8" fill="#888" fill-opacity="0.57"/>
<circle cx="910.4" cy="224.7" r="5.8" fill="#888" fill-opacity="0.57"/>
<circle cx="940.6" cy="224.5" r="5.8" fill="#888" fill-opacity="0.57"/>
<circle cx="1000.0" cy="224.7" r="5.8" fill="#888" fill-opacity="0.57"/>
<circle cx="1039.8" cy="224.0" r="5.8" fill="#888" fill-opacity="0.57"/>
<circle cx="899.1" cy="227.7" r="5.8" fill="#888" fill-opacity="0.57"/>
<circle cx="864.7" cy="226.2" r="5.8" fill="#888" fill-opacity="0.57"/>
<circle cx="870.0" cy="229.6" r="5.8" fill="#888" fill-opacity="0.57"/>
<circle cx="873.2" cy="224.9" r="5.8" fill="#888" fill-opacity="0.57"/>
<circle cx="878.9" cy="226.8" r="5.8" fill="#888" fill-opacity="0.57"/>
<circle cx="882.6" cy="224.9" r="5.8" fill="#888" fill-opacity="0.57"/>
<circle cx="874.2" cy="235.3" r="5.8" fill="#888" fill-opacity="0.57"/>
<circle cx="885.5" cy="234.3" r="5.8" fill="#888" fill-opacity="0.57"/>
<circle cx="822.6" cy="238.5" r="5.8" fill="#888" fill-opacity="0.57"/>
<circle cx="845.3" cy="238.1" r="5.8" fill="#888" fill-opacity="0.57"/>
<circle cx="853.0" cy="239.6" r="5.8" fill="#888" fill-opacity="0.57"/>
<circle cx="839.2" cy="242.5" r="5.8" fill="#888" fill-opacity="0.57"/>
<circle cx="860.0" cy="240.0" r="5.8" fill="#888" fill-opacity="0.57"/>
<circle cx="875.5" cy="240.9" r="5.8" fill="#888" fill-opacity="0.57"/>
<circle cx="890.2" cy="239.1" r="5.8" fill="#888" fill-opacity="0.57"/>
<circle cx="888.3" cy="241.9" r="5.8" fill="#888" fill-opacity="0.57"/>
<circle cx="944.2" cy="243.4" r="5.8" fill="#888" fill-opacity="0.57"/>
<circle cx="1028.1" cy="240.9" r="5.8" fill="#888" fill-opacity="0.57"/>
<circle cx="799.1" cy="247.7" r="5.8" fill="#888" fill-opacity="0.57"/>
<circle cx="815.3" cy="251.5" r="5.8" fill="#888" fill-opacity="0.57"/>
<circle cx="956.8" cy="250.9" r="5.8" fill="#888" fill-opacity="0.57"/>
<circle cx="921.3" cy="247.9" r="5.8" fill="#888" fill-opacity="0.57"/>
<circle cx="904.7" cy="249.8" r="5.8" fill="#888" fill-opacity="0.57"/>
<circle cx="900.6" cy="248.5" r="5.8" fill="#888" fill-opacity="0.57"/>
<circle cx="847.7" cy="250.4" r="5.8" fill="#888" fill-opacity="0.57"/>
<circle cx="853.4" cy="252.3" r="5.8" fill="#888" fill-opacity="0.57"/>
<circle cx="863.8" cy="247.5" r="5.8" fill="#888" fill-opacity="0.57"/>
<circle cx="867.5" cy="250.4" r="5.8" fill="#888" fill-opacity="0.57"/>
<circle cx="856.6" cy="257.2" r="5.8" fill="#888" fill-opacity="0.57"/>
<circle cx="916.4" cy="256.8" r="5.8" fill="#888" fill-opacity="0.57"/>
<circle cx="908.1" cy="262.8" r="5.8" fill="#888" fill-opacity="0.57"/>
<circle cx="884.5" cy="252.3" r="5.8" fill="#888" fill-opacity="0.57"/>
<circle cx="892.1" cy="254.2" r="5.8" fill="#888" fill-opacity="0.57"/>
<circle cx="877.9" cy="256.0" r="5.8" fill="#888" fill-opacity="0.57"/>
<circle cx="882.6" cy="259.8" r="5.8" fill="#888" fill-opacity="0.57"/>
<circle cx="892.1" cy="262.6" r="5.8" fill="#888" fill-opacity="0.57"/>
<circle cx="814.7" cy="264.5" r="5.8" fill="#888" fill-opacity="0.57"/>
<circle cx="847.7" cy="263.6" r="5.8" fill="#888" fill-opacity="0.57"/>
<circle cx="839.8" cy="266.8" r="5.8" fill="#888" fill-opacity="0.57"/>
<circle cx="828.9" cy="268.7" r="5.8" fill="#888" fill-opacity="0.57"/>
<circle cx="833.2" cy="268.3" r="5.8" fill="#888" fill-opacity="0.57"/>
<circle cx="853.4" cy="271.1" r="5.8" fill="#888" fill-opacity="0.57"/>
<circle cx="866.6" cy="267.4" r="5.8" fill="#888" fill-opacity="0.57"/>
<circle cx="873.2" cy="266.4" r="5.8" fill="#888" fill-opacity="0.57"/>
<circle cx="880.8" cy="268.3" r="5.8" fill="#888" fill-opacity="0.57"/>
<circle cx="890.2" cy="269.2" r="5.8" fill="#888" fill-opacity="0.57"/>
<circle cx="898.7" cy="271.1" r="5.8" fill="#888" fill-opacity="0.57"/>
<circle cx="902.5" cy="269.2" r="5.8" fill="#888" fill-opacity="0.57"/>
<circle cx="868.5" cy="273.0" r="5.8" fill="#888" fill-opacity="0.57"/>
<circle cx="858.1" cy="278.7" r="5.8" fill="#888" fill-opacity="0.57"/>
<circle cx="853.4" cy="276.8" r="5.8" fill="#888" fill-opacity="0.57"/>
<circle cx="886.4" cy="278.7" r="5.8" fill="#888" fill-opacity="0.57"/>
<circle cx="895.8" cy="276.8" r="5.8" fill="#888" fill-opacity="0.57"/>
<circle cx="900.6" cy="278.7" r="5.8" fill="#888" fill-opacity="0.57"/>
<circle cx="769.4" cy="292.6" r="5.8" fill="#888" fill-opacity="0.57"/>
<circle cx="937.9" cy="291.9" r="5.8" fill="#888" fill-opacity="0.57"/>
<circle cx="816.6" cy="297.0" r="5.8" fill="#888" fill-opacity="0.57"/>
<circle cx="826.0" cy="293.6" r="5.8" fill="#888" fill-opacity="0.57"/>
<circle cx="831.3" cy="287.0" r="5.8" fill="#888" fill-opacity="0.57"/>
<circle cx="836.4" cy="283.6" r="5.8" fill="#888" fill-opacity="0.57"/>
<circle cx="840.2" cy="283.6" r="5.8" fill="#888" fill-opacity="0.57"/>
<circle cx="844.0" cy="292.6" r="5.8" fill="#888" fill-opacity="0.57"/>
<circle cx="849.6" cy="281.7" r="5.8" fill="#888" fill-opacity="0.57"/>
<circle cx="856.2" cy="281.3" r="5.8" fill="#888" fill-opacity="0.57"/>
<circle cx="860.0" cy="284.7" r="5.8" fill="#888" fill-opacity="0.57"/>
<circle cx="868.1" cy="292.6" r="5.8" fill="#888" fill-opacity="0.57"/>
<circle cx="873.2" cy="297.0" r="5.8" fill="#888" fill-opacity="0.57"/>
<circle cx="879.2" cy="293.6" r="5.8" fill="#888" fill-opacity="0.57"/>
<circle cx="880.8" cy="299.2" r="5.8" fill="#888" fill-opacity="0.57"/>
<circle cx="888.3" cy="292.6" r="5.8" fill="#888" fill-opacity="0.57"/>
<circle cx="889.2" cy="300.2" r="5.8" fill="#888" fill-opacity="0.57"/>
<circle cx="896.2" cy="304.5" r="5.8" fill="#888" fill-opacity="0.57"/>
<circle cx="903.4" cy="297.4" r="5.8" fill="#888" fill-opacity="0.57"/>
<circle cx="907.2" cy="292.3" r="5.8" fill="#888" fill-opacity="0.57"/>
<circle cx="910.9" cy="288.9" r="5.8" fill="#888" fill-opacity="0.57"/>
<circle cx="911.9" cy="284.2" r="5.8" fill="#888" fill-opacity="0.57"/>
<circle cx="912.8" cy="300.6" r="5.8" fill="#888" fill-opacity="0.57"/>
<circle cx="895.8" cy="286.0" r="5.8" fill="#888" fill-opacity="0.57"/>
<circle cx="890.2" cy="283.2" r="5.8" fill="#888" fill-opacity="0.57"/>
<circle cx="884.5" cy="280.4" r="5.8" fill="#888" fill-opacity="0.57"/>
<circle cx="900.6" cy="278.5" r="5.8" fill="#888" fill-opacity="0.57"/>
<circle cx="844.0" cy="304.9" r="5.8" fill="#888" fill-opacity="0.57"/>
<circle cx="842.6" cy="310.9" r="5.8" fill="#888" fill-opacity="0.57"/>
<circle cx="858.1" cy="305.3" r="5.8" fill="#888" fill-opacity="0.57"/>
<circle cx="857.2" cy="310.2" r="5.8" fill="#888" fill-opacity="0.57"/>
<circle cx="864.2" cy="307.7" r="5.8" fill="#888" fill-opacity="0.57"/>
<circle cx="868.1" cy="305.3" r="5.8" fill="#888" fill-opacity="0.57"/>
<circle cx="881.3" cy="305.3" r="5.8" fill="#888" fill-opacity="0.57"/>
<circle cx="882.3" cy="310.2" r="5.8" fill="#888" fill-opacity="0.57"/>
<circle cx="870.4" cy="319.4" r="5.8" fill="#888" fill-opacity="0.57"/>
<circle cx="877.9" cy="318.7" r="5.8" fill="#888" fill-opacity="0.57"/>
<circle cx="878.9" cy="324.7" r="5.8" fill="#888" fill-opacity="0.57"/>
<circle cx="912.3" cy="325.7" r="5.8" fill="#888" fill-opacity="0.57"/>
<circle cx="917.7" cy="324.0" r="5.8" fill="#888" fill-opacity="0.57"/>
<circle cx="887.4" cy="333.6" r="5.8" fill="#888" fill-opacity="0.57"/>
<circle cx="903.6" cy="334.3" r="5.8" fill="#888" fill-opacity="0.57"/>
<circle cx="888.9" cy="343.6" r="5.8" fill="#888" fill-opacity="0.57"/>
<circle cx="869.8" cy="345.5" r="5.8" fill="#888" fill-opacity="0.57"/>
<circle cx="871.3" cy="350.6" r="5.8" fill="#888" fill-opacity="0.57"/>
<circle cx="892.5" cy="354.0" r="5.8" fill="#888" fill-opacity="0.57"/>
<circle cx="895.5" cy="375.8" r="5.8" fill="#888" fill-opacity="0.57"/>
<circle cx="848.9" cy="388.9" r="5.8" fill="#888" fill-opacity="0.57"/>
<circle cx="858.5" cy="442.5" r="5.8" fill="#888" fill-opacity="0.57"/>
<circle cx="905.7" cy="446.8" r="5.8" fill="#888" fill-opacity="0.57"/>
<circle cx="866.9" cy="269.6" r="5.8" fill="#888" fill-opacity="0.57"/>
<circle cx="897.9" cy="251.7" r="5.8" fill="#888" fill-opacity="0.57"/>
<circle cx="865.4" cy="260.7" r="5.8" fill="#888" fill-opacity="0.57"/>
<circle cx="890.7" cy="284.0" r="5.8" fill="#888" fill-opacity="0.57"/>
<circle cx="867.0" cy="236.1" r="5.8" fill="#888" fill-opacity="0.57"/>
<circle cx="893.9" cy="271.5" r="5.8" fill="#888" fill-opacity="0.57"/>
<circle cx="905.5" cy="281.6" r="5.8" fill="#888" fill-opacity="0.57"/>
<circle cx="882.6" cy="256.5" r="5.8" fill="#888" fill-opacity="0.57"/>
<circle cx="920.0" cy="256.2" r="5.8" fill="#888" fill-opacity="0.57"/>
<circle cx="873.0" cy="239.2" r="5.8" fill="#888" fill-opacity="0.57"/>
<circle cx="885.3" cy="264.9" r="5.8" fill="#888" fill-opacity="0.57"/>
<circle cx="879.2" cy="260.8" r="5.8" fill="#888" fill-opacity="0.57"/>
<circle cx="887.8" cy="275.8" r="5.8" fill="#888" fill-opacity="0.57"/>
<circle cx="899.4" cy="266.2" r="5.8" fill="#888" fill-opacity="0.57"/>
<circle cx="858.9" cy="276.0" r="5.8" fill="#888" fill-opacity="0.57"/>
<circle cx="864.1" cy="258.6" r="5.8" fill="#888" fill-opacity="0.57"/>
<circle cx="863.4" cy="262.0" r="5.8" fill="#888" fill-opacity="0.57"/>
<circle cx="873.1" cy="266.3" r="5.8" fill="#888" fill-opacity="0.57"/>
<circle cx="930.2" cy="261.0" r="5.8" fill="#888" fill-opacity="0.57"/>
<circle cx="895.8" cy="235.5" r="5.8" fill="#888" fill-opacity="0.57"/>
<circle cx="880.0" cy="275.2" r="5.8" fill="#888" fill-opacity="0.57"/>
<circle cx="882.7" cy="269.4" r="5.8" fill="#888" fill-opacity="0.57"/>
<circle cx="980.2" cy="113.2" r="6.6" fill="#ef7770" stroke="#d9282c" stroke-width="1.8"/>
</g>
<g id="panel-c">
<text transform="translate(1125.00,28.73) scale(1.060,0.942)" font-size="40" font-weight="bold" fill="#000" stroke="#000" stroke-width="1.3" stroke-linejoin="round">c</text>
<polygon fill="#66bb47" points="1324.0,95.4 1326.0,82.7 1327.2,72.9 1328.6,67.5 1329.4,70.9 1331.8,70.9 1332.3,57.2 1333.3,40.1 1336.7,40.1 1337.7,51.3 1338.7,62.1 1339.7,70.9 1341.1,79.7 1342.3,77.8 1343.1,83.7 1345.1,88.6 1347.5,88.6 1348.5,92.0 1350.0,92.5 1350.0,95.4"/>
<polygon fill="#66bb47" points="1351.1,95.4 1351.9,68.0 1353.4,64.1 1354.1,57.2 1356.8,57.2 1357.8,48.4 1358.8,37.6 1359.9,29.8 1361.7,29.3 1362.7,36.7 1364.2,36.7 1365.1,44.5 1366.6,59.2 1367.6,70.9 1368.6,82.7 1369.7,89.5 1369.9,95.4"/>
<polygon fill="#0e8a43" points="1323.0,191.4 1325.0,185.5 1326.4,178.7 1327.9,172.3 1328.9,174.8 1329.9,181.6 1330.9,180.6 1331.8,169.9 1333.3,167.9 1335.0,162.0 1335.9,166.9 1337.7,166.9 1338.7,172.8 1340.2,180.6 1341.6,180.6 1342.3,177.7 1344.1,177.7 1345.2,182.6 1347.0,188.0 1350.4,188.0 1350.7,183.6 1352.4,181.1 1354.8,181.1 1356.8,176.7 1358.8,169.9 1359.9,147.3 1360.9,125.8 1363.7,125.8 1365.1,145.4 1366.1,161.0 1367.1,178.7 1367.6,185.5 1369.0,187.0 1369.9,191.4"/>
<polygon fill="#5560ae" points="1290.7,307.0 1292.0,299.0 1295.5,299.0 1297.6,292.1 1304.8,292.1 1306.2,299.0 1308.7,299.0 1308.9,305.2 1319.6,305.2 1320.1,306.5 1321.2,306.5 1322.2,302.8 1323.0,289.1 1327.0,289.1 1327.6,286.0 1335.1,286.0 1335.8,289.1 1336.7,302.8 1337.5,299.0 1340.9,299.0 1342.0,301.7 1344.7,301.7 1345.0,306.5 1348.4,306.5 1349.5,305.2 1350.4,299.0 1352.2,299.0 1353.8,289.1 1362.1,289.1 1362.3,286.0 1363.6,286.0 1363.9,292.1 1365.7,292.1 1367.1,301.7 1368.7,302.2 1369.0,305.2 1373.0,305.2 1373.6,299.0 1375.7,299.0 1376.8,295.3 1377.8,299.0 1379.6,299.0 1380.7,305.2 1387.5,305.2 1388.5,301.7 1388.8,282.8 1389.9,282.8 1390.3,286.0 1393.3,286.0 1393.9,282.8 1395.7,282.8 1396.1,270.2 1400.8,270.2 1401.4,273.4 1402.4,273.4 1402.7,292.1 1404.0,292.1 1404.6,289.1 1408.6,289.1 1409.2,292.1 1409.9,299.0 1412.0,299.0 1413.1,289.1 1414.7,289.1 1414.9,295.8 1416.9,295.8 1417.4,292.1 1420.6,292.1 1420.9,289.1 1422.2,289.1 1422.5,295.8 1426.7,295.8 1427.3,299.0 1430.8,299.0 1431.3,305.2 1432.7,306.0 1432.9,307.0"/>
<polygon fill="#f07f45" points="1291.2,434.8 1292.3,426.3 1297.6,426.3 1298.2,416.8 1305.1,416.8 1306.2,426.3 1311.5,426.3 1313.4,404.3 1319.8,404.3 1320.4,397.9 1322.6,393.6 1323.3,356.2 1324.9,356.2 1326.0,374.9 1327.0,374.9 1327.4,368.8 1330.8,368.8 1331.3,374.9 1333.5,374.9 1334.5,384.6 1335.3,384.6 1335.6,378.1 1336.7,378.1 1337.2,404.3 1338.8,404.3 1339.3,407.3 1341.5,407.3 1342.0,420.4 1343.6,426.3 1347.9,426.3 1348.4,423.0 1350.0,423.0 1351.1,413.6 1362.3,413.6 1362.5,407.3 1363.6,407.3 1364.3,423.0 1366.4,423.0 1367.5,426.3 1370.7,426.3 1371.1,416.8 1373.6,416.8 1374.1,413.6 1375.7,413.6 1376.2,416.8 1378.9,416.8 1380.0,423.0 1381.0,426.3 1384.8,426.3 1385.1,434.8 1388.0,434.8 1388.5,384.6 1393.9,384.6 1396.0,374.9 1396.3,340.2 1397.4,340.2 1397.6,333.8 1402.1,333.8 1402.4,349.8 1402.7,397.4 1404.0,397.4 1404.6,388.0 1407.8,388.0 1408.3,393.6 1409.4,397.4 1411.0,423.0 1413.6,423.0 1414.2,397.4 1417.7,397.4 1418.5,407.3 1419.5,407.3 1419.8,413.6 1420.6,413.6 1421.1,407.3 1423.8,407.3 1424.9,394.7 1425.2,384.6 1427.8,384.6 1428.4,407.3 1430.5,407.3 1431.3,413.6 1433.4,413.6 1434.0,416.8 1437.7,416.8 1438.2,426.3 1439.0,434.8"/>
<line x1="1207.0" y1="96.6" x2="1540.8" y2="96.6" stroke="#000" stroke-width="3.7" />
<line x1="1207.0" y1="192.9" x2="1540.8" y2="192.9" stroke="#000" stroke-width="3.7" />
<line x1="1213.7" y1="308.1" x2="1549.3" y2="308.1" stroke="#000" stroke-width="3.7" />
<line x1="1213.7" y1="435.9" x2="1549.3" y2="435.9" stroke="#000" stroke-width="3.7" />
<text x="1205.59" y="44.10" font-size="26" textLength="114.12" lengthAdjust="spacingAndGlyphs">(0–0.06)</text>
<text x="1205.59" y="151.40" font-size="26" textLength="114.12" lengthAdjust="spacingAndGlyphs">(0–0.06)</text>
<text x="1205.73" y="266.70" font-size="26" textLength="81.86" lengthAdjust="spacingAndGlyphs">(0–10)</text>
<text x="1205.73" y="391.50" font-size="26" textLength="81.86" lengthAdjust="spacingAndGlyphs">(0–10)</text>
<text x="1468.62" y="62.50" font-size="29.2" textLength="60.30" lengthAdjust="spacingAndGlyphs">Rep1</text>
<text x="1468.43" y="157.00" font-size="29.2" textLength="65.87" lengthAdjust="spacingAndGlyphs">Rep2</text>
<text x="1468.51" y="275.30" font-size="29.2" textLength="109.33" lengthAdjust="spacingAndGlyphs">MDA-Par</text>
<text x="1468.45" y="410.00" font-size="29.2" textLength="122.93" lengthAdjust="spacingAndGlyphs">MDA-LM2</text>
<text x="1461.62" y="481.70" font-size="29.2" textLength="119.00" lengthAdjust="spacingAndGlyphs">NQO1-AS</text>
<text x="1126.57" y="524.60" font-size="29.2" textLength="73.20" lengthAdjust="spacingAndGlyphs">NQO1</text>
<text transform="translate(1193.80,159.85) rotate(-90)" font-size="29.2" textLength="114.26" lengthAdjust="spacingAndGlyphs">GRO-seq</text>
<text transform="translate(1193.80,404.62) rotate(-90)" font-size="29.2" textLength="109.04" lengthAdjust="spacingAndGlyphs">RNA-seq</text>
<rect x="1301.4" y="466.9" width="124.4" height="14.5" fill="#4a4a4a"/>
<rect x="1218.7" y="506.8" width="275.8" height="15.7" fill="#4a4a4a"/>
<rect x="1494.0" y="501.3" width="52.8" height="27.5" fill="#4a4a4a"/>
<polyline points="1330.6,469.6 1336.2,474.2 1330.6,478.8" fill="none" stroke="#fff" stroke-width="1.8"/>
<polyline points="1395.5,469.6 1401.1,474.2 1395.5,478.8" fill="none" stroke="#fff" stroke-width="1.8"/>
<polyline points="1264.3,510.3 1258.7,514.9 1264.3,519.5" fill="none" stroke="#fff" stroke-width="1.8"/>
<polyline points="1328.3,510.3 1322.7,514.9 1328.3,519.5" fill="none" stroke="#fff" stroke-width="1.8"/>
<polyline points="1393.0,510.3 1387.4,514.9 1393.0,519.5" fill="none" stroke="#fff" stroke-width="1.8"/>
<polyline points="1457.0,510.3 1451.4,514.9 1457.0,519.5" fill="none" stroke="#fff" stroke-width="1.8"/>
<polyline points="1521.8,510.3 1516.2,514.9 1521.8,519.5" fill="none" stroke="#fff" stroke-width="1.8"/>
</g>
<g id="panel-d">
<text transform="translate(197.45,652.75) scale(1.063,0.980)" font-size="40" font-weight="bold" fill="#000" stroke="#000" stroke-width="1.3" stroke-linejoin="round">d</text>
<rect x="295.2" y="1032.3" width="49.3" height="14.5" fill="#a8d8ef"/>
<rect x="369.2" y="792.1" width="48.9" height="254.7" fill="#827fbd"/>
<line x1="283.2" y1="688.3" x2="283.2" y2="1047.4" stroke="#333" stroke-width="1.3" />
<line x1="270.9" y1="1046.8" x2="430.8" y2="1046.8" stroke="#333" stroke-width="1.3" />
<line x1="271.2" y1="688.9" x2="283.2" y2="688.9" stroke="#333" stroke-width="1.3" />
<line x1="271.2" y1="760.4" x2="283.2" y2="760.4" stroke="#333" stroke-width="1.3" />
<line x1="271.2" y1="832.3" x2="283.2" y2="832.3" stroke="#333" stroke-width="1.3" />
<line x1="271.2" y1="903.4" x2="283.2" y2="903.4" stroke="#333" stroke-width="1.3" />
<line x1="271.2" y1="975.3" x2="283.2" y2="975.3" stroke="#333" stroke-width="1.3" />
<line x1="271.2" y1="1046.8" x2="283.2" y2="1046.8" stroke="#333" stroke-width="1.3" />
<line x1="320.2" y1="1046.8" x2="320.2" y2="1057.8" stroke="#333" stroke-width="1.3" />
<line x1="393.8" y1="1046.8" x2="393.8" y2="1057.8" stroke="#333" stroke-width="1.3" />
<text x="231.57" y="696.00" font-size="24.7">25</text>
<text x="231.51" y="767.50" font-size="24.7">20</text>
<text x="231.57" y="839.40" font-size="24.7">15</text>
<text x="231.51" y="910.50" font-size="24.7">10</text>
<text x="245.28" y="982.40" font-size="24.7">5</text>
<text x="245.22" y="1053.90" font-size="24.7">0</text>
<circle cx="307.5" cy="1030.6" r="8.2" fill="#7f8fcb" />
<circle cx="319.8" cy="1033.7" r="8.2" fill="#7f8fcb" />
<circle cx="332.2" cy="1032.0" r="8.2" fill="#7f8fcb" />
<rect x="385.0" y="731.5" width="17.0" height="17.0" fill="#4a4aa0"/>
<rect x="396.9" y="802.6" width="17.0" height="17.0" fill="#4a4aa0"/>
<rect x="372.6" y="818.1" width="17.0" height="17.0" fill="#4a4aa0"/>
<text x="314.78" y="704.20" font-size="29.2" textLength="103.04" lengthAdjust="spacingAndGlyphs"><tspan font-style="italic">P</tspan> = 0.05</text>
<text transform="translate(213.30,1000.77) rotate(-90)" font-size="29.2" textLength="265.07" lengthAdjust="spacingAndGlyphs">NQO1-AS expression</text>
<text transform="translate(329.40,1084.30) rotate(-45)" font-size="29.2" text-anchor="end" textLength="108.70" lengthAdjust="spacingAndGlyphs">MDA-Par</text>
<text transform="translate(404.10,1083.00) rotate(-45)" font-size="29.2" text-anchor="end" textLength="121.10" lengthAdjust="spacingAndGlyphs">MDA-LM2</text>
<rect x="571.0" y="986.9" width="49.3" height="59.9" fill="#f9eaa3"/>
<rect x="645.0" y="753.7" width="49.0" height="293.1" fill="#f6bfcd"/>
<line x1="559.4" y1="688.3" x2="559.4" y2="1047.4" stroke="#333" stroke-width="1.3" />
<line x1="547.0" y1="1046.8" x2="707.0" y2="1046.8" stroke="#333" stroke-width="1.3" />
<line x1="547.4" y1="688.9" x2="559.4" y2="688.9" stroke="#333" stroke-width="1.3" />
<line x1="547.4" y1="808.0" x2="559.4" y2="808.0" stroke="#333" stroke-width="1.3" />
<line x1="547.4" y1="927.4" x2="559.4" y2="927.4" stroke="#333" stroke-width="1.3" />
<line x1="547.4" y1="1046.8" x2="559.4" y2="1046.8" stroke="#333" stroke-width="1.3" />
<line x1="596.0" y1="1046.8" x2="596.0" y2="1057.8" stroke="#333" stroke-width="1.3" />
<line x1="669.6" y1="1046.8" x2="669.6" y2="1057.8" stroke="#333" stroke-width="1.3" />
<text x="523.04" y="696.00" font-size="24.7">6</text>
<text x="522.17" y="815.10" font-size="24.7">4</text>
<text x="523.23" y="934.50" font-size="24.7">2</text>
<text x="522.92" y="1053.90" font-size="24.7">0</text>
<circle cx="583.7" cy="979.1" r="8.2" fill="#f28a22" />
<circle cx="596.0" cy="991.1" r="8.2" fill="#f28a22" />
<circle cx="608.0" cy="991.1" r="8.2" fill="#f28a22" />
<rect x="648.5" y="723.0" width="17.0" height="17.0" fill="#e8442a"/>
<rect x="672.7" y="744.2" width="17.0" height="17.0" fill="#e8442a"/>
<rect x="660.8" y="769.5" width="17.0" height="17.0" fill="#e8442a"/>
<text x="594.78" y="702.50" font-size="29.2" textLength="103.04" lengthAdjust="spacingAndGlyphs"><tspan font-style="italic">P</tspan> = 0.05</text>
<text transform="translate(503.20,978.59) rotate(-90)" font-size="29.2" textLength="220.71" lengthAdjust="spacingAndGlyphs">NQO1 expression</text>
<text transform="translate(605.20,1082.80) rotate(-45)" font-size="29.2" text-anchor="end" textLength="108.50" lengthAdjust="spacingAndGlyphs">MDA-Par</text>
<text transform="translate(680.90,1082.80) rotate(-45)" font-size="29.2" text-anchor="end" textLength="121.70" lengthAdjust="spacingAndGlyphs">MDA-LM2</text>
</g>
<g id="panel-e">
<text transform="translate(770.07,652.85) scale(1.078,0.940)" font-size="40" font-weight="bold" fill="#000" stroke="#000" stroke-width="1.3" stroke-linejoin="round">e</text>
<text x="905.31" y="652.60" font-size="29.2" textLength="81.93" lengthAdjust="spacingAndGlyphs">Ligase</text>
<rect x="809.4" y="664.4" width="76.7" height="5.4" fill="#404040"/>
<rect x="786.0" y="675.7" width="121.2" height="5.4" fill="#000"/>
<rect x="1015.2" y="664.4" width="76.5" height="5.4" fill="#404040"/>
<path d="M992.1,678.4 H1096.2 A5.65,5.65 0 0 0 1096.2,667.1 H1091.5" fill="none" stroke="#000" stroke-width="5.4"/>
<path d="M818.0,666.6 l8.6,10.6 M826.6,666.6 l-8.6,10.6" stroke="#e0262a" stroke-width="2.2" fill="none"/>
<path d="M1024.0,666.6 l8.6,10.6 M1032.6,666.6 l-8.6,10.6" stroke="#e0262a" stroke-width="2.2" fill="none"/>
<path d="M926.4,668.8 H959.5 L956.5,664.2 L973.3,671 L956.5,677.8 L959.5,673.2 H926.4 Z" fill="#3d4c66"/>
<line x1="843.6" y1="714.2" x2="843.6" y2="1052.2" stroke="#333" stroke-width="1.3" />
<line x1="834.6" y1="1051.6" x2="1106.4" y2="1051.6" stroke="#333" stroke-width="1.3" />
<line x1="834.6" y1="760.9" x2="843.6" y2="760.9" stroke="#333" stroke-width="1.3" />
<text x="810.44" y="770.00" font-size="24.7">6</text>
<line x1="834.6" y1="858.2" x2="843.6" y2="858.2" stroke="#333" stroke-width="1.3" />
<text x="810.07" y="867.30" font-size="24.7">4</text>
<line x1="834.6" y1="954.3" x2="843.6" y2="954.3" stroke="#333" stroke-width="1.3" />
<text x="810.63" y="963.40" font-size="24.7">2</text>
<line x1="834.6" y1="1051.6" x2="843.6" y2="1051.6" stroke="#333" stroke-width="1.3" />
<text x="810.32" y="1060.70" font-size="24.7">0</text>
<line x1="845.4" y1="1051.6" x2="845.4" y2="1062.1" stroke="#333" stroke-width="1.3" />
<text x="831.82" y="1090.50" font-size="24.7" textLength="29.02" lengthAdjust="spacingAndGlyphs">30</text>
<line x1="977.1" y1="1051.6" x2="977.1" y2="1062.1" stroke="#333" stroke-width="1.3" />
<text x="963.42" y="1090.50" font-size="24.7" textLength="28.60" lengthAdjust="spacingAndGlyphs">40</text>
<line x1="1105.9" y1="1051.6" x2="1105.9" y2="1062.1" stroke="#333" stroke-width="1.3" />
<text x="1093.65" y="1090.50" font-size="24.7" textLength="29.09" lengthAdjust="spacingAndGlyphs">50</text>
<polyline fill="none" stroke="#b5b5b5" stroke-width="7.6" stroke-linejoin="round" stroke-linecap="round" points="845.4,1039.7 858.4,1039.7 871.4,1039.7 884.5,1039.7 897.5,1039.7 910.5,1039.7 923.5,1039.7 936.6,1039.7 949.6,1040.1 962.6,1040.8 975.6,1040.8 988.7,1040.8 1001.7,1040.8 1014.7,1040.8 1027.8,1040.4 1040.8,1039.7 1053.8,1039.5 1066.8,1040.2 1079.8,1040.1 1092.9,1039.3 1105.9,1039.2"/>
<polyline fill="none" stroke="#e85a5f" stroke-width="4.2" stroke-linejoin="round" stroke-linecap="round" points="845.4,1034.4 858.4,1034.4 871.4,1034.4 884.5,1033.2 897.5,1032.7 910.5,1030.5 923.5,1028.8 936.6,1027.0 949.6,1021.7 962.6,1013.8 975.6,1001.5 988.7,984.8 1001.7,966.3 1014.7,939.0 1027.8,914.3 1040.8,887.9 1053.8,860.6 1066.8,838.6 1079.8,814.0 1092.9,785.8 1105.9,763.8"/>
<polyline fill="none" stroke="#e85a5f" stroke-width="4.2" stroke-linejoin="round" stroke-linecap="round" points="845.4,1034.4 858.4,1034.4 871.4,1034.4 884.5,1034.4 897.5,1034.4 910.5,1034.4 923.5,1033.2 936.6,1031.4 949.6,1027.9 962.6,1021.7 975.6,1013.8 988.7,1003.3 1001.7,991.8 1014.7,970.7 1027.8,949.5 1040.8,927.5 1053.8,903.8 1066.8,886.2 1079.8,866.8 1092.9,842.1 1105.9,819.2"/>
<polyline fill="none" stroke="#e85a5f" stroke-width="4.2" stroke-linejoin="round" stroke-linecap="round" points="845.4,1034.4 858.4,1034.4 871.4,1034.4 884.5,1034.4 897.5,1034.4 910.5,1034.4 923.5,1034.4 936.6,1034.4 949.6,1034.4 962.6,1033.2 975.6,1027.9 988.7,1020.9 1001.7,1013.8 1014.7,1002.4 1027.8,984.8 1040.8,965.4 1053.8,945.1 1066.8,928.4 1079.8,902.9 1092.9,877.3 1105.9,855.3"/>
<text x="853.11" y="746.20" font-size="29.2" textLength="167.12" lengthAdjust="spacingAndGlyphs">NQO1-3′-UTR</text>
<text x="853.10" y="778.60" font-size="29.2" textLength="120.13" lengthAdjust="spacingAndGlyphs">NQO1-AS</text>
<text x="853.26" y="810.90" font-size="29.2" textLength="139.65" lengthAdjust="spacingAndGlyphs">interaction</text>
<line x1="852.5" y1="878.4" x2="871.0" y2="878.4" stroke="#e85a5f" stroke-width="5" stroke-linecap="round"/>
<line x1="852.5" y1="913.2" x2="871.0" y2="913.2" stroke="#b5b5b5" stroke-width="5" stroke-linecap="round"/>
<text x="882.43" y="886.30" font-size="29.2" textLength="110.08" lengthAdjust="spacingAndGlyphs">Samples</text>
<text x="882.22" y="920.80" font-size="29.2" textLength="110.28" lengthAdjust="spacingAndGlyphs">Controls</text>
<text x="884.34" y="1131.30" font-size="29.2" textLength="179.54" lengthAdjust="spacingAndGlyphs">Cycle number</text>
<text transform="translate(791.80,1000.42) rotate(-90)" font-size="29.2" textLength="235.92" lengthAdjust="spacingAndGlyphs">SYBR Green signal</text>
</g>
<g id="panel-f">
<text transform="translate(1174.63,652.33) scale(1.025,0.978)" font-size="40" font-weight="bold" fill="#000" stroke="#000" stroke-width="1.3" stroke-linejoin="round">f</text>
<rect x="1273.1" y="827.2" width="49.0" height="202.4" fill="#e8cde4"/>
<rect x="1347.0" y="972.2" width="49.0" height="57.4" fill="#cbc1e2"/>
<line x1="1261.5" y1="671.9" x2="1261.5" y2="1030.2" stroke="#333" stroke-width="1.3" />
<line x1="1249.8" y1="1029.6" x2="1409.2" y2="1029.6" stroke="#333" stroke-width="1.3" />
<line x1="1249.5" y1="791.2" x2="1261.5" y2="791.2" stroke="#333" stroke-width="1.3" />
<line x1="1249.5" y1="1029.6" x2="1261.5" y2="1029.6" stroke="#333" stroke-width="1.3" />
<line x1="1298.1" y1="1029.6" x2="1298.1" y2="1040.6" stroke="#333" stroke-width="1.3" />
<line x1="1371.7" y1="1029.6" x2="1371.7" y2="1040.6" stroke="#333" stroke-width="1.3" />
<text x="1209.86" y="800.80" font-size="24.7" textLength="29.24" lengthAdjust="spacingAndGlyphs">0.1</text>
<text x="1226.82" y="1039.00" font-size="24.7">0</text>
<circle cx="1297.8" cy="740.1" r="8.1" fill="#b660ab" />
<circle cx="1297.8" cy="821.2" r="8.1" fill="#b660ab" />
<circle cx="1297.8" cy="849.7" r="8.1" fill="#b660ab" />
<circle cx="1297.8" cy="898.3" r="8.1" fill="#b660ab" />
<rect x="1350.7" y="957.5" width="16.7" height="16.7" fill="#7660b0"/>
<rect x="1375.4" y="954.6" width="16.7" height="16.7" fill="#7660b0"/>
<rect x="1369.0" y="967.2" width="16.7" height="16.7" fill="#7660b0"/>
<rect x="1357.0" y="976.8" width="16.7" height="16.7" fill="#7660b0"/>
<text x="1289.71" y="693.90" font-size="29.2" textLength="98.35" lengthAdjust="spacingAndGlyphs"><tspan font-style="italic">P</tspan> = 0.01</text>
<text transform="translate(1192.90,958.98) rotate(-90)" font-size="29.2" textLength="215.10" lengthAdjust="spacingAndGlyphs">NQO1 decay rate</text>
<text transform="translate(1308.60,1062.90) rotate(-45)" font-size="29.2" text-anchor="end" textLength="108.20" lengthAdjust="spacingAndGlyphs">MDA-Par</text>
<text transform="translate(1386.70,1066.50) rotate(-45)" font-size="29.2" text-anchor="end" textLength="121.40" lengthAdjust="spacingAndGlyphs">MDA-LM2</text>
</g>
<g id="panel-g">
<text transform="translate(297.70,1252.00) scale(1.070,0.909)" font-size="40" font-weight="bold" fill="#000" stroke="#000" stroke-width="1.3" stroke-linejoin="round">g</text>
<rect x="385.1" y="1388.8" width="48.8" height="238.6" fill="#d6d6d6"/>
<rect x="458.5" y="1476.6" width="48.8" height="150.8" fill="#98d29e"/>
<line x1="373.6" y1="1271.9" x2="373.6" y2="1628.2" stroke="#333" stroke-width="1.3" />
<line x1="360.2" y1="1627.6" x2="519.9" y2="1627.6" stroke="#333" stroke-width="1.3" />
<line x1="360.2" y1="1391.0" x2="373.6" y2="1391.0" stroke="#333" stroke-width="1.3" />
<line x1="360.2" y1="1627.6" x2="373.6" y2="1627.6" stroke="#333" stroke-width="1.3" />
<line x1="409.7" y1="1627.6" x2="409.7" y2="1639.6" stroke="#333" stroke-width="1.3" />
<line x1="483.4" y1="1627.6" x2="483.4" y2="1639.6" stroke="#333" stroke-width="1.3" />
<text x="334.76" y="1399.90" font-size="24.7">1</text>
<text x="336.22" y="1636.50" font-size="24.7">0</text>
<circle cx="397.1" cy="1343.8" r="8.2" fill="#5f5f5f" />
<circle cx="422.0" cy="1345.2" r="8.2" fill="#5f5f5f" />
<circle cx="397.1" cy="1404.2" r="8.2" fill="#5f5f5f" />
<circle cx="422.0" cy="1403.5" r="8.2" fill="#5f5f5f" />
<circle cx="403.5" cy="1418.9" r="8.2" fill="#5f5f5f" />
<circle cx="415.8" cy="1418.2" r="8.2" fill="#5f5f5f" />
<rect x="474.4" y="1416.7" width="16.6" height="16.6" fill="#1f8040"/>
<rect x="474.4" y="1445.4" width="16.6" height="16.6" fill="#1f8040"/>
<rect x="486.4" y="1469.6" width="16.6" height="16.6" fill="#1f8040"/>
<rect x="462.5" y="1475.8" width="16.6" height="16.6" fill="#1f8040"/>
<rect x="474.4" y="1482.6" width="16.6" height="16.6" fill="#1f8040"/>
<rect x="474.4" y="1518.4" width="16.6" height="16.6" fill="#1f8040"/>
<text x="400.36" y="1306.50" font-size="29.2" textLength="120.99" lengthAdjust="spacingAndGlyphs"><tspan font-style="italic">P</tspan> = 0.002</text>
<text transform="translate(320.10,1560.39) rotate(-90)" font-size="29.2" textLength="220.81" lengthAdjust="spacingAndGlyphs">NQO1 expression</text>
<text transform="translate(422.50,1656.10) rotate(-45)" font-size="29.2" text-anchor="end" textLength="48.40" lengthAdjust="spacingAndGlyphs">Ctrl</text>
<text transform="translate(491.70,1662.80) rotate(-45)" font-size="29.2" text-anchor="end" textLength="117.60" lengthAdjust="spacingAndGlyphs">NQO1-AS</text>
<text transform="translate(512.10,1680.80) rotate(-45)" font-size="29.2" text-anchor="end" textLength="109.80" lengthAdjust="spacingAndGlyphs">GapmeR</text>
<text x="598.52" y="1256.30" font-size="29.2" textLength="124.17" lengthAdjust="spacingAndGlyphs">MDA-LM2</text>
<rect x="612.1" y="1389.9" width="32.1" height="236.8" fill="#d6d6d6"/>
<rect x="660.9" y="1516.5" width="32.1" height="110.2" fill="#a9daee"/>
<rect x="709.7" y="1435.9" width="32.1" height="190.8" fill="#a6b3e0"/>
<line x1="603.7" y1="1270.8" x2="603.7" y2="1627.4" stroke="#333" stroke-width="1.3" />
<line x1="591.1" y1="1626.8" x2="750.6" y2="1626.8" stroke="#333" stroke-width="1.3" />
<line x1="591.1" y1="1390.0" x2="603.7" y2="1390.0" stroke="#333" stroke-width="1.3" />
<line x1="591.1" y1="1626.8" x2="603.7" y2="1626.8" stroke="#333" stroke-width="1.3" />
<line x1="627.8" y1="1626.8" x2="627.8" y2="1638.8" stroke="#333" stroke-width="1.3" />
<line x1="676.9" y1="1626.8" x2="676.9" y2="1638.8" stroke="#333" stroke-width="1.3" />
<line x1="726.1" y1="1626.8" x2="726.1" y2="1638.8" stroke="#333" stroke-width="1.3" />
<text x="564.06" y="1399.00" font-size="24.7">1</text>
<text x="565.52" y="1635.80" font-size="24.7">0</text>
<circle cx="624.0" cy="1384.1" r="8.2" fill="#5f5f5f" />
<circle cx="632.2" cy="1390.2" r="8.2" fill="#5f5f5f" />
<circle cx="627.8" cy="1395.0" r="8.2" fill="#5f5f5f" />
<rect x="656.0" y="1476.8" width="16.6" height="16.6" fill="#5f97cf"/>
<rect x="676.8" y="1484.0" width="16.6" height="16.6" fill="#5f97cf"/>
<rect x="668.3" y="1563.8" width="16.6" height="16.6" fill="#5f97cf"/>
<circle cx="725.7" cy="1416.8" r="8.2" fill="#545fae" />
<circle cx="738.4" cy="1438.7" r="8.2" fill="#545fae" />
<circle cx="717.9" cy="1453.3" r="8.2" fill="#545fae" />
<text transform="translate(684.50,1448.73) rotate(-90)" font-size="29.2" textLength="103.34" lengthAdjust="spacingAndGlyphs"><tspan font-style="italic">P</tspan> = 0.05</text>
<text transform="translate(733.00,1392.43) rotate(-90)" font-size="29.2" textLength="103.34" lengthAdjust="spacingAndGlyphs"><tspan font-style="italic">P</tspan> = 0.05</text>
<text transform="translate(640.60,1654.30) rotate(-45)" font-size="29.2" text-anchor="end" textLength="78.40" lengthAdjust="spacingAndGlyphs">sgCtrl</text>
<text transform="translate(684.70,1663.60) rotate(-45)" font-size="29.2" text-anchor="end" textLength="168.80" lengthAdjust="spacingAndGlyphs">NQO1-AS-sg1</text>
<text transform="translate(737.70,1663.60) rotate(-45)" font-size="29.2" text-anchor="end" textLength="171.60" lengthAdjust="spacingAndGlyphs">NQO1-AS-sg2</text>
<rect x="840.2" y="1538.3" width="41.6" height="90.8" fill="#d6d6d6"/>
<rect x="903.7" y="1395.3" width="41.6" height="233.8" fill="#fbd5c4"/>
<line x1="820.4" y1="1271.9" x2="820.4" y2="1629.7" stroke="#333" stroke-width="1.3" />
<line x1="812.2" y1="1629.1" x2="967.2" y2="1629.1" stroke="#333" stroke-width="1.3" />
<line x1="812.2" y1="1272.5" x2="820.4" y2="1272.5" stroke="#333" stroke-width="1.3" />
<line x1="812.2" y1="1361.9" x2="820.4" y2="1361.9" stroke="#333" stroke-width="1.3" />
<line x1="812.2" y1="1451.0" x2="820.4" y2="1451.0" stroke="#333" stroke-width="1.3" />
<line x1="812.2" y1="1540.0" x2="820.4" y2="1540.0" stroke="#333" stroke-width="1.3" />
<line x1="812.2" y1="1629.1" x2="820.4" y2="1629.1" stroke="#333" stroke-width="1.3" />
<line x1="861.4" y1="1629.1" x2="861.4" y2="1639.4" stroke="#333" stroke-width="1.3" />
<line x1="924.8" y1="1629.1" x2="924.8" y2="1639.4" stroke="#333" stroke-width="1.3" />
<text x="789.97" y="1279.90" font-size="24.7">4</text>
<text x="790.34" y="1369.30" font-size="24.7">3</text>
<text x="790.53" y="1458.40" font-size="24.7">2</text>
<text x="790.46" y="1547.40" font-size="24.7">1</text>
<text x="790.22" y="1636.50" font-size="24.7">0</text>
<circle cx="861.4" cy="1512.4" r="8.2" fill="#5f5f5f" />
<circle cx="874.0" cy="1548.6" r="8.2" fill="#5f5f5f" />
<circle cx="848.7" cy="1555.7" r="8.2" fill="#5f5f5f" />
<rect x="916.0" y="1318.6" width="17.0" height="17.0" fill="#dd5c4c"/>
<rect x="916.0" y="1397.1" width="17.0" height="17.0" fill="#dd5c4c"/>
<rect x="916.0" y="1445.5" width="17.0" height="17.0" fill="#dd5c4c"/>
<text x="830.17" y="1287.70" font-size="29.2" textLength="103.34" lengthAdjust="spacingAndGlyphs"><tspan font-style="italic">P</tspan> = 0.05</text>
<text transform="translate(875.40,1655.00) rotate(-45)" font-size="29.2" text-anchor="end" textLength="93.40" lengthAdjust="spacingAndGlyphs">sgaCtrl</text>
<text transform="translate(938.30,1659.70) rotate(-45)" font-size="29.2" text-anchor="end" textLength="163.60" lengthAdjust="spacingAndGlyphs">sgaNQO1-AS</text>
</g>
<g id="panel-h">
<text transform="translate(1037.70,1252.43) scale(1.042,0.978)" font-size="40" font-weight="bold" fill="#000" stroke="#000" stroke-width="1.3" stroke-linejoin="round">h</text>
<text x="1159.66" y="1267.20" font-size="29.2" textLength="75.83" lengthAdjust="spacingAndGlyphs">BT-20</text>
<rect x="1146.7" y="1403.2" width="41.6" height="236.8" fill="#d6d6d6"/>
<rect x="1210.2" y="1508.3" width="41.6" height="131.7" fill="#b3c1e4"/>
<line x1="1126.9" y1="1283.1" x2="1126.9" y2="1640.6" stroke="#333" stroke-width="1.3" />
<line x1="1117.3" y1="1640.0" x2="1273.7" y2="1640.0" stroke="#333" stroke-width="1.3" />
<line x1="1117.3" y1="1283.7" x2="1126.9" y2="1283.7" stroke="#333" stroke-width="1.3" />
<line x1="1117.3" y1="1403.2" x2="1126.9" y2="1403.2" stroke="#333" stroke-width="1.3" />
<line x1="1117.3" y1="1521.6" x2="1126.9" y2="1521.6" stroke="#333" stroke-width="1.3" />
<line x1="1117.3" y1="1640.0" x2="1126.9" y2="1640.0" stroke="#333" stroke-width="1.3" />
<line x1="1167.8" y1="1640.0" x2="1167.8" y2="1650.3" stroke="#333" stroke-width="1.3" />
<line x1="1231.3" y1="1640.0" x2="1231.3" y2="1650.3" stroke="#333" stroke-width="1.3" />
<text x="1075.36" y="1293.00" font-size="24.7">1.5</text>
<text x="1075.29" y="1412.50" font-size="24.7">1.0</text>
<text x="1075.36" y="1530.90" font-size="24.7">0.5</text>
<text x="1095.92" y="1649.30" font-size="24.7">0</text>
<circle cx="1155.9" cy="1396.0" r="8.2" fill="#5f5f5f" />
<circle cx="1180.5" cy="1396.0" r="8.2" fill="#5f5f5f" />
<circle cx="1167.5" cy="1417.2" r="8.2" fill="#5f5f5f" />
<rect x="1222.7" y="1478.2" width="16.6" height="16.6" fill="#3f3d9a"/>
<rect x="1235.3" y="1506.5" width="16.6" height="16.6" fill="#3f3d9a"/>
<rect x="1210.1" y="1516.0" width="16.6" height="16.6" fill="#3f3d9a"/>
<text x="1154.08" y="1336.50" font-size="29.2" textLength="102.63" lengthAdjust="spacingAndGlyphs"><tspan font-style="italic">P</tspan> = 0.05</text>
<text transform="translate(1058.50,1572.27) rotate(-90)" font-size="29.2" textLength="219.08" lengthAdjust="spacingAndGlyphs">NQO1 expression</text>
<text transform="translate(1179.30,1666.70) rotate(-45)" font-size="29.2" text-anchor="end" textLength="48.80" lengthAdjust="spacingAndGlyphs">Ctrl</text>
<text transform="translate(1246.00,1672.60) rotate(-45)" font-size="29.2" text-anchor="end" textLength="236.30" lengthAdjust="spacingAndGlyphs">NQO1-AS GapmeR</text>
</g>
</svg>
</body></html>
